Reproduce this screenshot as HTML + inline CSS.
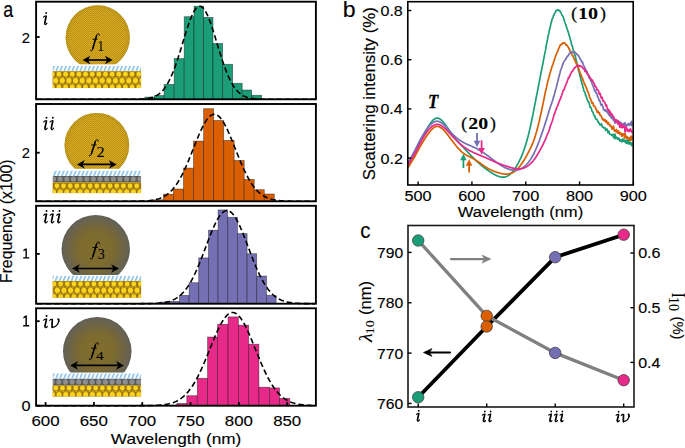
<!DOCTYPE html><html><head><meta charset="utf-8"><style>html,body{margin:0;padding:0;background:#fff;overflow:hidden}svg{display:block}</style></head><body><svg width="685" height="448" viewBox="0 0 685 448">
<rect width="685" height="448" fill="#fff"/>
<defs><pattern id="hatch" patternUnits="userSpaceOnUse" width="4.0" height="10" patternTransform="skewX(-22)"><rect width="4.0" height="10" fill="#fff"/><rect x="0" width="1.8" height="10" fill="#8cc4ec"/></pattern><radialGradient id="gold" cx="0.5" cy="0.5" r="0.5"><stop offset="0" stop-color="#b98a0e"/><stop offset="0.85" stop-color="#b6880e"/><stop offset="1" stop-color="#a07a0c"/></radialGradient><radialGradient id="dark" cx="0.5" cy="0.5" r="0.5"><stop offset="0" stop-color="#7e6c2a"/><stop offset="0.5" stop-color="#78672d"/><stop offset="0.74" stop-color="#6c6040"/><stop offset="0.9" stop-color="#615f54"/><stop offset="1" stop-color="#595959"/></radialGradient><pattern id="dotsgold" patternUnits="userSpaceOnUse" width="2.2" height="2.0"><circle cx="0.55" cy="0.5" r="0.62" fill="rgba(236,196,52,0.8)"/><circle cx="1.65" cy="1.5" r="0.62" fill="rgba(236,196,52,0.8)"/></pattern><pattern id="dotsdark" patternUnits="userSpaceOnUse" width="2" height="1.75"><circle cx="0.5" cy="0.45" r="0.5" fill="rgba(150,130,60,0.35)"/><circle cx="1.5" cy="1.3" r="0.5" fill="rgba(150,130,60,0.35)"/></pattern></defs>
<rect x="144.90" y="97.10" width="9.60" height="2.20" fill="#1b9e77" stroke="rgba(0,0,0,0.45)" stroke-width="0.8"/>
<rect x="154.50" y="95.50" width="9.60" height="3.80" fill="#1b9e77" stroke="rgba(0,0,0,0.45)" stroke-width="0.8"/>
<rect x="164.10" y="84.40" width="10.10" height="14.90" fill="#1b9e77" stroke="rgba(0,0,0,0.45)" stroke-width="0.8"/>
<rect x="174.20" y="58.50" width="10.00" height="40.80" fill="#1b9e77" stroke="rgba(0,0,0,0.45)" stroke-width="0.8"/>
<rect x="184.20" y="16.70" width="9.80" height="82.60" fill="#1b9e77" stroke="rgba(0,0,0,0.45)" stroke-width="0.8"/>
<rect x="194.00" y="6.25" width="9.60" height="93.05" fill="#1b9e77" stroke="rgba(0,0,0,0.45)" stroke-width="0.8"/>
<rect x="203.60" y="17.40" width="9.40" height="81.90" fill="#1b9e77" stroke="rgba(0,0,0,0.45)" stroke-width="0.8"/>
<rect x="213.00" y="43.50" width="9.60" height="55.80" fill="#1b9e77" stroke="rgba(0,0,0,0.45)" stroke-width="0.8"/>
<rect x="222.60" y="64.30" width="10.00" height="35.00" fill="#1b9e77" stroke="rgba(0,0,0,0.45)" stroke-width="0.8"/>
<rect x="232.60" y="83.30" width="9.60" height="16.00" fill="#1b9e77" stroke="rgba(0,0,0,0.45)" stroke-width="0.8"/>
<rect x="242.20" y="90.00" width="9.40" height="9.30" fill="#1b9e77" stroke="rgba(0,0,0,0.45)" stroke-width="0.8"/>
<rect x="251.60" y="95.30" width="10.05" height="4.00" fill="#1b9e77" stroke="rgba(0,0,0,0.45)" stroke-width="0.8"/>
<path d="M37.10,99.30 L38.03,99.30 L38.96,99.30 L39.89,99.30 L40.82,99.30 L41.75,99.30 L42.67,99.30 L43.60,99.30 L44.53,99.30 L45.46,99.30 L46.39,99.30 L47.32,99.30 L48.25,99.30 L49.18,99.30 L50.11,99.30 L51.04,99.30 L51.97,99.30 L52.89,99.30 L53.82,99.30 L54.75,99.30 L55.68,99.30 L56.61,99.30 L57.54,99.30 L58.47,99.30 L59.40,99.30 L60.33,99.30 L61.26,99.30 L62.19,99.30 L63.11,99.30 L64.04,99.30 L64.97,99.30 L65.90,99.30 L66.83,99.30 L67.76,99.30 L68.69,99.30 L69.62,99.30 L70.55,99.30 L71.48,99.30 L72.41,99.30 L73.33,99.30 L74.26,99.30 L75.19,99.30 L76.12,99.30 L77.05,99.30 L77.98,99.30 L78.91,99.30 L79.84,99.30 L80.77,99.30 L81.70,99.30 L82.63,99.30 L83.55,99.30 L84.48,99.30 L85.41,99.30 L86.34,99.30 L87.27,99.30 L88.20,99.30 L89.13,99.30 L90.06,99.30 L90.99,99.30 L91.92,99.30 L92.85,99.30 L93.77,99.30 L94.70,99.30 L95.63,99.30 L96.56,99.30 L97.49,99.30 L98.42,99.30 L99.35,99.30 L100.28,99.30 L101.21,99.30 L102.14,99.30 L103.07,99.30 L103.99,99.30 L104.92,99.30 L105.85,99.30 L106.78,99.30 L107.71,99.30 L108.64,99.30 L109.57,99.30 L110.50,99.30 L111.43,99.30 L112.36,99.30 L113.29,99.30 L114.22,99.30 L115.14,99.30 L116.07,99.30 L117.00,99.30 L117.93,99.30 L118.86,99.30 L119.79,99.30 L120.72,99.30 L121.65,99.30 L122.58,99.30 L123.51,99.30 L124.44,99.29 L125.36,99.29 L126.29,99.29 L127.22,99.29 L128.15,99.29 L129.08,99.28 L130.01,99.28 L130.94,99.27 L131.87,99.27 L132.80,99.26 L133.73,99.25 L134.66,99.24 L135.58,99.22 L136.51,99.20 L137.44,99.18 L138.37,99.16 L139.30,99.13 L140.23,99.09 L141.16,99.05 L142.09,98.99 L143.02,98.93 L143.95,98.86 L144.88,98.77 L145.80,98.67 L146.73,98.56 L147.66,98.42 L148.59,98.27 L149.52,98.08 L150.45,97.88 L151.38,97.63 L152.31,97.36 L153.24,97.05 L154.17,96.69 L155.10,96.28 L156.02,95.83 L156.95,95.31 L157.88,94.74 L158.81,94.09 L159.74,93.37 L160.67,92.58 L161.60,91.69 L162.53,90.72 L163.46,89.65 L164.39,88.48 L165.32,87.21 L166.24,85.82 L167.17,84.32 L168.10,82.71 L169.03,80.97 L169.96,79.11 L170.89,77.12 L171.82,75.02 L172.75,72.79 L173.68,70.45 L174.61,67.99 L175.54,65.42 L176.46,62.75 L177.39,59.98 L178.32,57.13 L179.25,54.21 L180.18,51.23 L181.11,48.20 L182.04,45.15 L182.97,42.07 L183.90,39.01 L184.83,35.97 L185.76,32.97 L186.68,30.03 L187.61,27.18 L188.54,24.44 L189.47,21.81 L190.40,19.34 L191.33,17.03 L192.26,14.90 L193.19,12.97 L194.12,11.27 L195.05,9.79 L195.98,8.56 L196.90,7.58 L197.83,6.87 L198.76,6.42 L199.69,6.25 L200.62,6.36 L201.55,6.74 L202.48,7.39 L203.41,8.31 L204.34,9.48 L205.27,10.90 L206.20,12.56 L207.12,14.43 L208.05,16.52 L208.98,18.79 L209.91,21.22 L210.84,23.81 L211.77,26.53 L212.70,29.36 L213.63,32.28 L214.56,35.26 L215.49,38.30 L216.42,41.36 L217.34,44.43 L218.27,47.49 L219.20,50.53 L220.13,53.52 L221.06,56.46 L221.99,59.33 L222.92,62.11 L223.85,64.81 L224.78,67.40 L225.71,69.89 L226.64,72.26 L227.56,74.51 L228.49,76.65 L229.42,78.66 L230.35,80.55 L231.28,82.31 L232.21,83.96 L233.14,85.48 L234.07,86.90 L235.00,88.20 L235.93,89.39 L236.86,90.48 L237.78,91.48 L238.71,92.38 L239.64,93.19 L240.57,93.93 L241.50,94.59 L242.43,95.18 L243.36,95.71 L244.29,96.18 L245.22,96.60 L246.15,96.97 L247.08,97.29 L248.01,97.57 L248.93,97.82 L249.86,98.04 L250.79,98.23 L251.72,98.39 L252.65,98.53 L253.58,98.65 L254.51,98.75 L255.44,98.84 L256.37,98.92 L257.30,98.98 L258.23,99.03 L259.15,99.08 L260.08,99.12 L261.01,99.15 L261.94,99.18 L262.87,99.20 L263.80,99.22 L264.73,99.23 L265.66,99.25 L266.59,99.26 L267.52,99.26 L268.45,99.27 L269.37,99.28 L270.30,99.28 L271.23,99.29 L272.16,99.29 L273.09,99.29 L274.02,99.29 L274.95,99.29 L275.88,99.30 L276.81,99.30 L277.74,99.30 L278.67,99.30 L279.59,99.30 L280.52,99.30 L281.45,99.30 L282.38,99.30 L283.31,99.30 L284.24,99.30 L285.17,99.30 L286.10,99.30 L287.03,99.30 L287.96,99.30 L288.89,99.30 L289.81,99.30 L290.74,99.30 L291.67,99.30 L292.60,99.30 L293.53,99.30 L294.46,99.30 L295.39,99.30 L296.32,99.30 L297.25,99.30 L298.18,99.30 L299.11,99.30 L300.03,99.30 L300.96,99.30 L301.89,99.30 L302.82,99.30 L303.75,99.30 L304.68,99.30 L305.61,99.30 L306.54,99.30 L307.47,99.30 L308.40,99.30 L309.33,99.30 L310.25,99.30 L311.18,99.30 L312.11,99.30 L313.04,99.30 L313.97,99.30 L314.90,99.30" fill="none" stroke="#000" stroke-width="1.6" stroke-dasharray="5.5,3"/>
<rect x="153.30" y="199.80" width="10.10" height="1.50" fill="#d95f02" stroke="rgba(0,0,0,0.45)" stroke-width="0.8"/>
<rect x="163.40" y="194.20" width="10.00" height="7.10" fill="#d95f02" stroke="rgba(0,0,0,0.45)" stroke-width="0.8"/>
<rect x="173.40" y="189.00" width="10.10" height="12.30" fill="#d95f02" stroke="rgba(0,0,0,0.45)" stroke-width="0.8"/>
<rect x="183.50" y="168.10" width="10.00" height="33.20" fill="#d95f02" stroke="rgba(0,0,0,0.45)" stroke-width="0.8"/>
<rect x="193.50" y="141.10" width="10.10" height="60.20" fill="#d95f02" stroke="rgba(0,0,0,0.45)" stroke-width="0.8"/>
<rect x="203.60" y="108.70" width="10.00" height="92.60" fill="#d95f02" stroke="rgba(0,0,0,0.45)" stroke-width="0.8"/>
<rect x="213.60" y="120.50" width="10.10" height="80.80" fill="#d95f02" stroke="rgba(0,0,0,0.45)" stroke-width="0.8"/>
<rect x="223.70" y="140.40" width="10.50" height="60.90" fill="#d95f02" stroke="rgba(0,0,0,0.45)" stroke-width="0.8"/>
<rect x="234.20" y="160.50" width="10.00" height="40.80" fill="#d95f02" stroke="rgba(0,0,0,0.45)" stroke-width="0.8"/>
<rect x="244.20" y="179.50" width="10.00" height="21.80" fill="#d95f02" stroke="rgba(0,0,0,0.45)" stroke-width="0.8"/>
<rect x="254.20" y="189.70" width="10.10" height="11.60" fill="#d95f02" stroke="rgba(0,0,0,0.45)" stroke-width="0.8"/>
<rect x="264.30" y="194.00" width="10.00" height="7.30" fill="#d95f02" stroke="rgba(0,0,0,0.45)" stroke-width="0.8"/>
<path d="M37.10,201.30 L38.03,201.30 L38.96,201.30 L39.89,201.30 L40.82,201.30 L41.75,201.30 L42.67,201.30 L43.60,201.30 L44.53,201.30 L45.46,201.30 L46.39,201.30 L47.32,201.30 L48.25,201.30 L49.18,201.30 L50.11,201.30 L51.04,201.30 L51.97,201.30 L52.89,201.30 L53.82,201.30 L54.75,201.30 L55.68,201.30 L56.61,201.30 L57.54,201.30 L58.47,201.30 L59.40,201.30 L60.33,201.30 L61.26,201.30 L62.19,201.30 L63.11,201.30 L64.04,201.30 L64.97,201.30 L65.90,201.30 L66.83,201.30 L67.76,201.30 L68.69,201.30 L69.62,201.30 L70.55,201.30 L71.48,201.30 L72.41,201.30 L73.33,201.30 L74.26,201.30 L75.19,201.30 L76.12,201.30 L77.05,201.30 L77.98,201.30 L78.91,201.30 L79.84,201.30 L80.77,201.30 L81.70,201.30 L82.63,201.30 L83.55,201.30 L84.48,201.30 L85.41,201.30 L86.34,201.30 L87.27,201.30 L88.20,201.30 L89.13,201.30 L90.06,201.30 L90.99,201.30 L91.92,201.30 L92.85,201.30 L93.77,201.30 L94.70,201.30 L95.63,201.30 L96.56,201.30 L97.49,201.30 L98.42,201.30 L99.35,201.30 L100.28,201.30 L101.21,201.30 L102.14,201.30 L103.07,201.30 L103.99,201.30 L104.92,201.30 L105.85,201.30 L106.78,201.30 L107.71,201.30 L108.64,201.30 L109.57,201.30 L110.50,201.30 L111.43,201.30 L112.36,201.30 L113.29,201.30 L114.22,201.30 L115.14,201.30 L116.07,201.30 L117.00,201.30 L117.93,201.30 L118.86,201.30 L119.79,201.30 L120.72,201.30 L121.65,201.30 L122.58,201.29 L123.51,201.29 L124.44,201.29 L125.36,201.29 L126.29,201.29 L127.22,201.29 L128.15,201.28 L129.08,201.28 L130.01,201.27 L130.94,201.27 L131.87,201.26 L132.80,201.26 L133.73,201.25 L134.66,201.24 L135.58,201.23 L136.51,201.21 L137.44,201.20 L138.37,201.18 L139.30,201.16 L140.23,201.14 L141.16,201.11 L142.09,201.08 L143.02,201.04 L143.95,201.00 L144.88,200.95 L145.80,200.90 L146.73,200.83 L147.66,200.76 L148.59,200.68 L149.52,200.59 L150.45,200.48 L151.38,200.36 L152.31,200.23 L153.24,200.08 L154.17,199.91 L155.10,199.73 L156.02,199.52 L156.95,199.28 L157.88,199.02 L158.81,198.74 L159.74,198.42 L160.67,198.07 L161.60,197.68 L162.53,197.25 L163.46,196.79 L164.39,196.28 L165.32,195.72 L166.24,195.11 L167.17,194.45 L168.10,193.74 L169.03,192.97 L169.96,192.13 L170.89,191.24 L171.82,190.27 L172.75,189.24 L173.68,188.14 L174.61,186.97 L175.54,185.72 L176.46,184.40 L177.39,183.00 L178.32,181.53 L179.25,179.98 L180.18,178.35 L181.11,176.65 L182.04,174.87 L182.97,173.02 L183.90,171.10 L184.83,169.11 L185.76,167.06 L186.68,164.96 L187.61,162.80 L188.54,160.59 L189.47,158.34 L190.40,156.05 L191.33,153.74 L192.26,151.41 L193.19,149.07 L194.12,146.72 L195.05,144.38 L195.98,142.06 L196.90,139.77 L197.83,137.51 L198.76,135.30 L199.69,133.15 L200.62,131.07 L201.55,129.07 L202.48,127.16 L203.41,125.35 L204.34,123.64 L205.27,122.06 L206.20,120.60 L207.12,119.28 L208.05,118.10 L208.98,117.07 L209.91,116.20 L210.84,115.48 L211.77,114.93 L212.70,114.55 L213.63,114.34 L214.56,114.31 L215.49,114.44 L216.42,114.74 L217.34,115.22 L218.27,115.86 L219.20,116.66 L220.13,117.62 L221.06,118.74 L221.99,119.99 L222.92,121.39 L223.85,122.92 L224.78,124.57 L225.71,126.34 L226.64,128.21 L227.56,130.17 L228.49,132.22 L229.42,134.34 L230.35,136.52 L231.28,138.76 L232.21,141.04 L233.14,143.35 L234.07,145.68 L235.00,148.02 L235.93,150.37 L236.86,152.70 L237.78,155.03 L238.71,157.32 L239.64,159.59 L240.57,161.82 L241.50,164.00 L242.43,166.13 L243.36,168.21 L244.29,170.22 L245.22,172.17 L246.15,174.05 L247.08,175.86 L248.01,177.60 L248.93,179.26 L249.86,180.85 L250.79,182.35 L251.72,183.79 L252.65,185.14 L253.58,186.42 L254.51,187.63 L255.44,188.76 L256.37,189.82 L257.30,190.82 L258.23,191.74 L259.15,192.60 L260.08,193.40 L261.01,194.14 L261.94,194.83 L262.87,195.46 L263.80,196.03 L264.73,196.57 L265.66,197.05 L266.59,197.49 L267.52,197.90 L268.45,198.27 L269.37,198.60 L270.30,198.90 L271.23,199.17 L272.16,199.42 L273.09,199.64 L274.02,199.83 L274.95,200.01 L275.88,200.17 L276.81,200.31 L277.74,200.43 L278.67,200.54 L279.59,200.64 L280.52,200.73 L281.45,200.80 L282.38,200.87 L283.31,200.93 L284.24,200.98 L285.17,201.02 L286.10,201.06 L287.03,201.10 L287.96,201.13 L288.89,201.15 L289.81,201.17 L290.74,201.19 L291.67,201.21 L292.60,201.22 L293.53,201.23 L294.46,201.24 L295.39,201.25 L296.32,201.26 L297.25,201.27 L298.18,201.27 L299.11,201.28 L300.03,201.28 L300.96,201.28 L301.89,201.29 L302.82,201.29 L303.75,201.29 L304.68,201.29 L305.61,201.29 L306.54,201.29 L307.47,201.30 L308.40,201.30 L309.33,201.30 L310.25,201.30 L311.18,201.30 L312.11,201.30 L313.04,201.30 L313.97,201.30 L314.90,201.30" fill="none" stroke="#000" stroke-width="1.6" stroke-dasharray="5.5,3"/>
<rect x="160.00" y="302.10" width="9.60" height="1.60" fill="#7570b3" stroke="rgba(0,0,0,0.45)" stroke-width="0.8"/>
<rect x="169.60" y="301.40" width="9.90" height="2.30" fill="#7570b3" stroke="rgba(0,0,0,0.45)" stroke-width="0.8"/>
<rect x="179.50" y="295.40" width="9.60" height="8.30" fill="#7570b3" stroke="rgba(0,0,0,0.45)" stroke-width="0.8"/>
<rect x="189.10" y="282.70" width="9.60" height="21.00" fill="#7570b3" stroke="rgba(0,0,0,0.45)" stroke-width="0.8"/>
<rect x="198.70" y="257.90" width="9.80" height="45.80" fill="#7570b3" stroke="rgba(0,0,0,0.45)" stroke-width="0.8"/>
<rect x="208.50" y="230.20" width="9.60" height="73.50" fill="#7570b3" stroke="rgba(0,0,0,0.45)" stroke-width="0.8"/>
<rect x="218.10" y="209.90" width="9.60" height="93.80" fill="#7570b3" stroke="rgba(0,0,0,0.45)" stroke-width="0.8"/>
<rect x="227.70" y="217.30" width="9.80" height="86.40" fill="#7570b3" stroke="rgba(0,0,0,0.45)" stroke-width="0.8"/>
<rect x="237.50" y="233.60" width="9.60" height="70.10" fill="#7570b3" stroke="rgba(0,0,0,0.45)" stroke-width="0.8"/>
<rect x="247.10" y="253.70" width="9.60" height="50.00" fill="#7570b3" stroke="rgba(0,0,0,0.45)" stroke-width="0.8"/>
<rect x="256.70" y="276.00" width="9.80" height="27.70" fill="#7570b3" stroke="rgba(0,0,0,0.45)" stroke-width="0.8"/>
<rect x="266.50" y="295.40" width="9.60" height="8.30" fill="#7570b3" stroke="rgba(0,0,0,0.45)" stroke-width="0.8"/>
<path d="M37.10,303.70 L38.03,303.70 L38.96,303.70 L39.89,303.70 L40.82,303.70 L41.75,303.70 L42.67,303.70 L43.60,303.70 L44.53,303.70 L45.46,303.70 L46.39,303.70 L47.32,303.70 L48.25,303.70 L49.18,303.70 L50.11,303.70 L51.04,303.70 L51.97,303.70 L52.89,303.70 L53.82,303.70 L54.75,303.70 L55.68,303.70 L56.61,303.70 L57.54,303.70 L58.47,303.70 L59.40,303.70 L60.33,303.70 L61.26,303.70 L62.19,303.70 L63.11,303.70 L64.04,303.70 L64.97,303.70 L65.90,303.70 L66.83,303.70 L67.76,303.70 L68.69,303.70 L69.62,303.70 L70.55,303.70 L71.48,303.70 L72.41,303.70 L73.33,303.70 L74.26,303.70 L75.19,303.70 L76.12,303.70 L77.05,303.70 L77.98,303.70 L78.91,303.70 L79.84,303.70 L80.77,303.70 L81.70,303.70 L82.63,303.70 L83.55,303.70 L84.48,303.70 L85.41,303.70 L86.34,303.70 L87.27,303.70 L88.20,303.70 L89.13,303.70 L90.06,303.70 L90.99,303.70 L91.92,303.70 L92.85,303.70 L93.77,303.70 L94.70,303.70 L95.63,303.70 L96.56,303.70 L97.49,303.70 L98.42,303.70 L99.35,303.70 L100.28,303.70 L101.21,303.70 L102.14,303.70 L103.07,303.70 L103.99,303.70 L104.92,303.70 L105.85,303.70 L106.78,303.70 L107.71,303.70 L108.64,303.70 L109.57,303.70 L110.50,303.70 L111.43,303.70 L112.36,303.70 L113.29,303.70 L114.22,303.70 L115.14,303.70 L116.07,303.70 L117.00,303.70 L117.93,303.70 L118.86,303.70 L119.79,303.70 L120.72,303.70 L121.65,303.70 L122.58,303.70 L123.51,303.70 L124.44,303.70 L125.36,303.70 L126.29,303.70 L127.22,303.70 L128.15,303.70 L129.08,303.70 L130.01,303.70 L130.94,303.70 L131.87,303.70 L132.80,303.69 L133.73,303.69 L134.66,303.69 L135.58,303.69 L136.51,303.69 L137.44,303.69 L138.37,303.68 L139.30,303.68 L140.23,303.68 L141.16,303.67 L142.09,303.67 L143.02,303.66 L143.95,303.65 L144.88,303.64 L145.80,303.63 L146.73,303.62 L147.66,303.61 L148.59,303.59 L149.52,303.58 L150.45,303.55 L151.38,303.53 L152.31,303.50 L153.24,303.47 L154.17,303.43 L155.10,303.39 L156.02,303.34 L156.95,303.28 L157.88,303.22 L158.81,303.15 L159.74,303.06 L160.67,302.97 L161.60,302.86 L162.53,302.75 L163.46,302.61 L164.39,302.46 L165.32,302.29 L166.24,302.11 L167.17,301.90 L168.10,301.66 L169.03,301.41 L169.96,301.12 L170.89,300.80 L171.82,300.45 L172.75,300.07 L173.68,299.64 L174.61,299.18 L175.54,298.67 L176.46,298.12 L177.39,297.52 L178.32,296.86 L179.25,296.15 L180.18,295.39 L181.11,294.56 L182.04,293.67 L182.97,292.71 L183.90,291.68 L184.83,290.59 L185.76,289.42 L186.68,288.18 L187.61,286.86 L188.54,285.46 L189.47,283.98 L190.40,282.43 L191.33,280.79 L192.26,279.08 L193.19,277.29 L194.12,275.42 L195.05,273.48 L195.98,271.47 L196.90,269.39 L197.83,267.24 L198.76,265.03 L199.69,262.77 L200.62,260.46 L201.55,258.10 L202.48,255.71 L203.41,253.28 L204.34,250.84 L205.27,248.38 L206.20,245.92 L207.12,243.46 L208.05,241.02 L208.98,238.60 L209.91,236.22 L210.84,233.88 L211.77,231.60 L212.70,229.39 L213.63,227.25 L214.56,225.20 L215.49,223.25 L216.42,221.41 L217.34,219.69 L218.27,218.09 L219.20,216.63 L220.13,215.32 L221.06,214.15 L221.99,213.14 L222.92,212.29 L223.85,211.61 L224.78,211.11 L225.71,210.77 L226.64,210.61 L227.56,210.63 L228.49,210.83 L229.42,211.20 L230.35,211.75 L231.28,212.46 L232.21,213.34 L233.14,214.39 L234.07,215.59 L235.00,216.94 L235.93,218.43 L236.86,220.05 L237.78,221.80 L238.71,223.67 L239.64,225.64 L240.57,227.71 L241.50,229.86 L242.43,232.09 L243.36,234.38 L244.29,236.73 L245.22,239.12 L246.15,241.54 L247.08,243.99 L248.01,246.45 L248.93,248.91 L249.86,251.37 L250.79,253.81 L251.72,256.23 L252.65,258.61 L253.58,260.96 L254.51,263.26 L255.44,265.52 L256.37,267.71 L257.30,269.84 L258.23,271.91 L259.15,273.91 L260.08,275.83 L261.01,277.68 L261.94,279.46 L262.87,281.15 L263.80,282.77 L264.73,284.31 L265.66,285.77 L266.59,287.15 L267.52,288.45 L268.45,289.68 L269.37,290.83 L270.30,291.91 L271.23,292.92 L272.16,293.87 L273.09,294.74 L274.02,295.56 L274.95,296.31 L275.88,297.01 L276.81,297.65 L277.74,298.24 L278.67,298.79 L279.59,299.28 L280.52,299.74 L281.45,300.15 L282.38,300.53 L283.31,300.87 L284.24,301.18 L285.17,301.46 L286.10,301.72 L287.03,301.94 L287.96,302.15 L288.89,302.33 L289.81,302.50 L290.74,302.64 L291.67,302.77 L292.60,302.89 L293.53,302.99 L294.46,303.08 L295.39,303.16 L296.32,303.23 L297.25,303.30 L298.18,303.35 L299.11,303.40 L300.03,303.44 L300.96,303.48 L301.89,303.51 L302.82,303.54 L303.75,303.56 L304.68,303.58 L305.61,303.60 L306.54,303.61 L307.47,303.63 L308.40,303.64 L309.33,303.65 L310.25,303.66 L311.18,303.66 L312.11,303.67 L313.04,303.67 L313.97,303.68 L314.90,303.68" fill="none" stroke="#000" stroke-width="1.6" stroke-dasharray="5.5,3"/>
<rect x="166.70" y="405.30" width="10.10" height="0.40" fill="#e7298a" stroke="rgba(0,0,0,0.45)" stroke-width="0.8"/>
<rect x="176.80" y="403.50" width="10.00" height="2.20" fill="#e7298a" stroke="rgba(0,0,0,0.45)" stroke-width="0.8"/>
<rect x="186.80" y="395.70" width="10.50" height="10.00" fill="#e7298a" stroke="rgba(0,0,0,0.45)" stroke-width="0.8"/>
<rect x="197.30" y="378.30" width="10.30" height="27.40" fill="#e7298a" stroke="rgba(0,0,0,0.45)" stroke-width="0.8"/>
<rect x="207.60" y="337.00" width="10.00" height="68.70" fill="#e7298a" stroke="rgba(0,0,0,0.45)" stroke-width="0.8"/>
<rect x="217.60" y="324.30" width="10.50" height="81.40" fill="#e7298a" stroke="rgba(0,0,0,0.45)" stroke-width="0.8"/>
<rect x="228.10" y="316.90" width="10.30" height="88.80" fill="#e7298a" stroke="rgba(0,0,0,0.45)" stroke-width="0.8"/>
<rect x="238.40" y="325.20" width="10.30" height="80.50" fill="#e7298a" stroke="rgba(0,0,0,0.45)" stroke-width="0.8"/>
<rect x="248.70" y="344.20" width="10.20" height="61.50" fill="#e7298a" stroke="rgba(0,0,0,0.45)" stroke-width="0.8"/>
<rect x="258.90" y="387.20" width="10.50" height="18.50" fill="#e7298a" stroke="rgba(0,0,0,0.45)" stroke-width="0.8"/>
<rect x="269.40" y="387.90" width="10.10" height="17.80" fill="#e7298a" stroke="rgba(0,0,0,0.45)" stroke-width="0.8"/>
<rect x="279.50" y="398.40" width="10.30" height="7.30" fill="#e7298a" stroke="rgba(0,0,0,0.45)" stroke-width="0.8"/>
<path d="M37.10,405.70 L38.03,405.70 L38.96,405.70 L39.89,405.70 L40.82,405.70 L41.75,405.70 L42.67,405.70 L43.60,405.70 L44.53,405.70 L45.46,405.70 L46.39,405.70 L47.32,405.70 L48.25,405.70 L49.18,405.70 L50.11,405.70 L51.04,405.70 L51.97,405.70 L52.89,405.70 L53.82,405.70 L54.75,405.70 L55.68,405.70 L56.61,405.70 L57.54,405.70 L58.47,405.70 L59.40,405.70 L60.33,405.70 L61.26,405.70 L62.19,405.70 L63.11,405.70 L64.04,405.70 L64.97,405.70 L65.90,405.70 L66.83,405.70 L67.76,405.70 L68.69,405.70 L69.62,405.70 L70.55,405.70 L71.48,405.70 L72.41,405.70 L73.33,405.70 L74.26,405.70 L75.19,405.70 L76.12,405.70 L77.05,405.70 L77.98,405.70 L78.91,405.70 L79.84,405.70 L80.77,405.70 L81.70,405.70 L82.63,405.70 L83.55,405.70 L84.48,405.70 L85.41,405.70 L86.34,405.70 L87.27,405.70 L88.20,405.70 L89.13,405.70 L90.06,405.70 L90.99,405.70 L91.92,405.70 L92.85,405.70 L93.77,405.70 L94.70,405.70 L95.63,405.70 L96.56,405.70 L97.49,405.70 L98.42,405.70 L99.35,405.70 L100.28,405.70 L101.21,405.70 L102.14,405.70 L103.07,405.70 L103.99,405.70 L104.92,405.70 L105.85,405.70 L106.78,405.70 L107.71,405.70 L108.64,405.70 L109.57,405.70 L110.50,405.70 L111.43,405.70 L112.36,405.70 L113.29,405.70 L114.22,405.70 L115.14,405.70 L116.07,405.70 L117.00,405.70 L117.93,405.70 L118.86,405.70 L119.79,405.70 L120.72,405.70 L121.65,405.70 L122.58,405.70 L123.51,405.70 L124.44,405.70 L125.36,405.70 L126.29,405.70 L127.22,405.70 L128.15,405.70 L129.08,405.70 L130.01,405.70 L130.94,405.70 L131.87,405.69 L132.80,405.69 L133.73,405.69 L134.66,405.69 L135.58,405.69 L136.51,405.69 L137.44,405.68 L138.37,405.68 L139.30,405.68 L140.23,405.67 L141.16,405.67 L142.09,405.66 L143.02,405.66 L143.95,405.65 L144.88,405.64 L145.80,405.63 L146.73,405.62 L147.66,405.61 L148.59,405.59 L149.52,405.58 L150.45,405.56 L151.38,405.54 L152.31,405.51 L153.24,405.48 L154.17,405.45 L155.10,405.41 L156.02,405.37 L156.95,405.32 L157.88,405.27 L158.81,405.20 L159.74,405.14 L160.67,405.06 L161.60,404.97 L162.53,404.87 L163.46,404.76 L164.39,404.64 L165.32,404.50 L166.24,404.35 L167.17,404.18 L168.10,403.99 L169.03,403.79 L169.96,403.56 L170.89,403.31 L171.82,403.03 L172.75,402.73 L173.68,402.40 L174.61,402.03 L175.54,401.63 L176.46,401.20 L177.39,400.73 L178.32,400.22 L179.25,399.67 L180.18,399.07 L181.11,398.42 L182.04,397.73 L182.97,396.98 L183.90,396.18 L184.83,395.32 L185.76,394.41 L186.68,393.43 L187.61,392.39 L188.54,391.29 L189.47,390.12 L190.40,388.89 L191.33,387.59 L192.26,386.22 L193.19,384.78 L194.12,383.27 L195.05,381.69 L195.98,380.05 L196.90,378.34 L197.83,376.56 L198.76,374.72 L199.69,372.81 L200.62,370.85 L201.55,368.83 L202.48,366.76 L203.41,364.64 L204.34,362.47 L205.27,360.27 L206.20,358.04 L207.12,355.77 L208.05,353.49 L208.98,351.20 L209.91,348.89 L210.84,346.59 L211.77,344.30 L212.70,342.02 L213.63,339.77 L214.56,337.55 L215.49,335.38 L216.42,333.26 L217.34,331.19 L218.27,329.20 L219.20,327.28 L220.13,325.44 L221.06,323.70 L221.99,322.06 L222.92,320.53 L223.85,319.12 L224.78,317.83 L225.71,316.66 L226.64,315.63 L227.56,314.75 L228.49,314.00 L229.42,313.40 L230.35,312.95 L231.28,312.66 L232.21,312.51 L233.14,312.53 L234.07,312.69 L235.00,313.01 L235.93,313.49 L236.86,314.11 L237.78,314.88 L238.71,315.79 L239.64,316.84 L240.57,318.03 L241.50,319.34 L242.43,320.77 L243.36,322.32 L244.29,323.98 L245.22,325.73 L246.15,327.58 L247.08,329.51 L248.01,331.52 L248.93,333.59 L249.86,335.73 L250.79,337.91 L251.72,340.13 L252.65,342.39 L253.58,344.67 L254.51,346.96 L255.44,349.27 L256.37,351.57 L257.30,353.86 L258.23,356.14 L259.15,358.40 L260.08,360.63 L261.01,362.82 L261.94,364.98 L262.87,367.09 L263.80,369.16 L264.73,371.17 L265.66,373.12 L266.59,375.02 L267.52,376.85 L268.45,378.62 L269.37,380.32 L270.30,381.95 L271.23,383.52 L272.16,385.02 L273.09,386.44 L274.02,387.80 L274.95,389.09 L275.88,390.32 L276.81,391.47 L277.74,392.57 L278.67,393.59 L279.59,394.56 L280.52,395.47 L281.45,396.31 L282.38,397.11 L283.31,397.84 L284.24,398.53 L285.17,399.17 L286.10,399.76 L287.03,400.30 L287.96,400.81 L288.89,401.27 L289.81,401.70 L290.74,402.09 L291.67,402.45 L292.60,402.78 L293.53,403.08 L294.46,403.35 L295.39,403.60 L296.32,403.82 L297.25,404.03 L298.18,404.21 L299.11,404.38 L300.03,404.53 L300.96,404.66 L301.89,404.78 L302.82,404.89 L303.75,404.98 L304.68,405.07 L305.61,405.15 L306.54,405.21 L307.47,405.28 L308.40,405.33 L309.33,405.38 L310.25,405.42 L311.18,405.45 L312.11,405.49 L313.04,405.52 L313.97,405.54 L314.90,405.56" fill="none" stroke="#000" stroke-width="1.6" stroke-dasharray="5.5,3"/>
<clipPath id="cl0"><rect x="0" y="0" width="685" height="64.30"/></clipPath>
<g clip-path="url(#cl0)"><circle cx="97.75" cy="37.5" r="32.15" fill="url(#gold)"/><circle cx="97.75" cy="37.5" r="32.15" fill="url(#dotsgold)"/></g>
<rect x="52.7" y="66.0" width="88.4" height="5.20" fill="url(#hatch)"/>
<rect x="52.7" y="71.20" width="88.4" height="16.80" fill="#a98208"/>
<clipPath id="cy0"><rect x="52.7" y="71.20" width="88.4" height="16.80"/></clipPath><g clip-path="url(#cy0)">
<circle cx="45.65" cy="74.20" r="2.4" fill="#fad41e"/>
<line x1="48.98" y1="72.00" x2="48.98" y2="76.40" stroke="#8f6a04" stroke-width="0.8"/>
<circle cx="52.30" cy="74.20" r="2.4" fill="#fad41e"/>
<line x1="55.62" y1="72.00" x2="55.62" y2="76.40" stroke="#8f6a04" stroke-width="0.8"/>
<circle cx="58.95" cy="74.20" r="2.4" fill="#fad41e"/>
<line x1="62.27" y1="72.00" x2="62.27" y2="76.40" stroke="#8f6a04" stroke-width="0.8"/>
<circle cx="65.60" cy="74.20" r="2.4" fill="#fad41e"/>
<line x1="68.92" y1="72.00" x2="68.92" y2="76.40" stroke="#8f6a04" stroke-width="0.8"/>
<circle cx="72.25" cy="74.20" r="2.4" fill="#fad41e"/>
<line x1="75.58" y1="72.00" x2="75.58" y2="76.40" stroke="#8f6a04" stroke-width="0.8"/>
<circle cx="78.90" cy="74.20" r="2.4" fill="#fad41e"/>
<line x1="82.23" y1="72.00" x2="82.23" y2="76.40" stroke="#8f6a04" stroke-width="0.8"/>
<circle cx="85.55" cy="74.20" r="2.4" fill="#fad41e"/>
<line x1="88.88" y1="72.00" x2="88.88" y2="76.40" stroke="#8f6a04" stroke-width="0.8"/>
<circle cx="92.20" cy="74.20" r="2.4" fill="#fad41e"/>
<line x1="95.53" y1="72.00" x2="95.53" y2="76.40" stroke="#8f6a04" stroke-width="0.8"/>
<circle cx="98.85" cy="74.20" r="2.4" fill="#fad41e"/>
<line x1="102.18" y1="72.00" x2="102.18" y2="76.40" stroke="#8f6a04" stroke-width="0.8"/>
<circle cx="105.50" cy="74.20" r="2.4" fill="#fad41e"/>
<line x1="108.83" y1="72.00" x2="108.83" y2="76.40" stroke="#8f6a04" stroke-width="0.8"/>
<circle cx="112.15" cy="74.20" r="2.4" fill="#fad41e"/>
<line x1="115.48" y1="72.00" x2="115.48" y2="76.40" stroke="#8f6a04" stroke-width="0.8"/>
<circle cx="118.80" cy="74.20" r="2.4" fill="#fad41e"/>
<line x1="122.13" y1="72.00" x2="122.13" y2="76.40" stroke="#8f6a04" stroke-width="0.8"/>
<circle cx="125.45" cy="74.20" r="2.4" fill="#fad41e"/>
<line x1="128.78" y1="72.00" x2="128.78" y2="76.40" stroke="#8f6a04" stroke-width="0.8"/>
<circle cx="132.10" cy="74.20" r="2.4" fill="#fad41e"/>
<line x1="135.43" y1="72.00" x2="135.43" y2="76.40" stroke="#8f6a04" stroke-width="0.8"/>
<circle cx="138.75" cy="74.20" r="2.4" fill="#fad41e"/>
<line x1="142.08" y1="72.00" x2="142.08" y2="76.40" stroke="#8f6a04" stroke-width="0.8"/>
<line x1="52.7" y1="77.40" x2="141.1" y2="77.40" stroke="#e6d49a" stroke-width="0.6" stroke-dasharray="1.4,1.9"/>
<circle cx="48.98" cy="80.60" r="2.6" fill="#fad41e"/>
<line x1="52.30" y1="78.40" x2="52.30" y2="82.80" stroke="#8f6a04" stroke-width="0.8"/>
<circle cx="55.62" cy="80.60" r="2.6" fill="#fad41e"/>
<line x1="58.95" y1="78.40" x2="58.95" y2="82.80" stroke="#8f6a04" stroke-width="0.8"/>
<circle cx="62.27" cy="80.60" r="2.6" fill="#fad41e"/>
<line x1="65.60" y1="78.40" x2="65.60" y2="82.80" stroke="#8f6a04" stroke-width="0.8"/>
<circle cx="68.92" cy="80.60" r="2.6" fill="#fad41e"/>
<line x1="72.25" y1="78.40" x2="72.25" y2="82.80" stroke="#8f6a04" stroke-width="0.8"/>
<circle cx="75.58" cy="80.60" r="2.6" fill="#fad41e"/>
<line x1="78.90" y1="78.40" x2="78.90" y2="82.80" stroke="#8f6a04" stroke-width="0.8"/>
<circle cx="82.23" cy="80.60" r="2.6" fill="#fad41e"/>
<line x1="85.55" y1="78.40" x2="85.55" y2="82.80" stroke="#8f6a04" stroke-width="0.8"/>
<circle cx="88.88" cy="80.60" r="2.6" fill="#fad41e"/>
<line x1="92.20" y1="78.40" x2="92.20" y2="82.80" stroke="#8f6a04" stroke-width="0.8"/>
<circle cx="95.53" cy="80.60" r="2.6" fill="#fad41e"/>
<line x1="98.85" y1="78.40" x2="98.85" y2="82.80" stroke="#8f6a04" stroke-width="0.8"/>
<circle cx="102.18" cy="80.60" r="2.6" fill="#fad41e"/>
<line x1="105.50" y1="78.40" x2="105.50" y2="82.80" stroke="#8f6a04" stroke-width="0.8"/>
<circle cx="108.83" cy="80.60" r="2.6" fill="#fad41e"/>
<line x1="112.15" y1="78.40" x2="112.15" y2="82.80" stroke="#8f6a04" stroke-width="0.8"/>
<circle cx="115.48" cy="80.60" r="2.6" fill="#fad41e"/>
<line x1="118.80" y1="78.40" x2="118.80" y2="82.80" stroke="#8f6a04" stroke-width="0.8"/>
<circle cx="122.13" cy="80.60" r="2.6" fill="#fad41e"/>
<line x1="125.45" y1="78.40" x2="125.45" y2="82.80" stroke="#8f6a04" stroke-width="0.8"/>
<circle cx="128.78" cy="80.60" r="2.6" fill="#fad41e"/>
<line x1="132.10" y1="78.40" x2="132.10" y2="82.80" stroke="#8f6a04" stroke-width="0.8"/>
<circle cx="135.43" cy="80.60" r="2.6" fill="#fad41e"/>
<line x1="138.75" y1="78.40" x2="138.75" y2="82.80" stroke="#8f6a04" stroke-width="0.8"/>
<circle cx="142.08" cy="80.60" r="2.6" fill="#fad41e"/>
<line x1="145.40" y1="78.40" x2="145.40" y2="82.80" stroke="#8f6a04" stroke-width="0.8"/>
<line x1="52.7" y1="83.80" x2="141.1" y2="83.80" stroke="#e6d49a" stroke-width="0.6" stroke-dasharray="1.4,1.9"/>
<circle cx="45.65" cy="87.00" r="2.4" fill="#fad41e"/>
<line x1="48.98" y1="84.80" x2="48.98" y2="89.20" stroke="#8f6a04" stroke-width="0.8"/>
<circle cx="52.30" cy="87.00" r="2.4" fill="#fad41e"/>
<line x1="55.62" y1="84.80" x2="55.62" y2="89.20" stroke="#8f6a04" stroke-width="0.8"/>
<circle cx="58.95" cy="87.00" r="2.4" fill="#fad41e"/>
<line x1="62.27" y1="84.80" x2="62.27" y2="89.20" stroke="#8f6a04" stroke-width="0.8"/>
<circle cx="65.60" cy="87.00" r="2.4" fill="#fad41e"/>
<line x1="68.92" y1="84.80" x2="68.92" y2="89.20" stroke="#8f6a04" stroke-width="0.8"/>
<circle cx="72.25" cy="87.00" r="2.4" fill="#fad41e"/>
<line x1="75.58" y1="84.80" x2="75.58" y2="89.20" stroke="#8f6a04" stroke-width="0.8"/>
<circle cx="78.90" cy="87.00" r="2.4" fill="#fad41e"/>
<line x1="82.23" y1="84.80" x2="82.23" y2="89.20" stroke="#8f6a04" stroke-width="0.8"/>
<circle cx="85.55" cy="87.00" r="2.4" fill="#fad41e"/>
<line x1="88.88" y1="84.80" x2="88.88" y2="89.20" stroke="#8f6a04" stroke-width="0.8"/>
<circle cx="92.20" cy="87.00" r="2.4" fill="#fad41e"/>
<line x1="95.53" y1="84.80" x2="95.53" y2="89.20" stroke="#8f6a04" stroke-width="0.8"/>
<circle cx="98.85" cy="87.00" r="2.4" fill="#fad41e"/>
<line x1="102.18" y1="84.80" x2="102.18" y2="89.20" stroke="#8f6a04" stroke-width="0.8"/>
<circle cx="105.50" cy="87.00" r="2.4" fill="#fad41e"/>
<line x1="108.83" y1="84.80" x2="108.83" y2="89.20" stroke="#8f6a04" stroke-width="0.8"/>
<circle cx="112.15" cy="87.00" r="2.4" fill="#fad41e"/>
<line x1="115.48" y1="84.80" x2="115.48" y2="89.20" stroke="#8f6a04" stroke-width="0.8"/>
<circle cx="118.80" cy="87.00" r="2.4" fill="#fad41e"/>
<line x1="122.13" y1="84.80" x2="122.13" y2="89.20" stroke="#8f6a04" stroke-width="0.8"/>
<circle cx="125.45" cy="87.00" r="2.4" fill="#fad41e"/>
<line x1="128.78" y1="84.80" x2="128.78" y2="89.20" stroke="#8f6a04" stroke-width="0.8"/>
<circle cx="132.10" cy="87.00" r="2.4" fill="#fad41e"/>
<line x1="135.43" y1="84.80" x2="135.43" y2="89.20" stroke="#8f6a04" stroke-width="0.8"/>
<circle cx="138.75" cy="87.00" r="2.4" fill="#fad41e"/>
<line x1="142.08" y1="84.80" x2="142.08" y2="89.20" stroke="#8f6a04" stroke-width="0.8"/>
</g>
<line x1="85.50" y1="60.0" x2="109.70" y2="60.0" stroke="#000" stroke-width="1.7"/>
<path d="M82.50,60.0 L90.30,55.70 L88.12,60.0 L90.30,64.30 Z" fill="#000"/>
<path d="M112.70,60.0 L104.90,55.70 L107.08,60.0 L104.90,64.30 Z" fill="#000"/>
<path d="M99.37,35.33 C99.62,34.25 98.78,33.57 97.86,33.76 C97.02,33.96 96.69,35.04 96.44,36.12" fill="none" stroke="#000" stroke-width="0.91" stroke-linecap="round"/>
<path d="M96.44,36.12 L92.84,48.38" fill="none" stroke="#000" stroke-width="1.65" stroke-linecap="round"/>
<path d="M92.84,48.38 C92.51,49.76 92.01,50.94 91.17,51.03 C90.75,51.03 90.58,50.64 90.67,50.25" fill="none" stroke="#000" stroke-width="0.99" stroke-linecap="round"/>
<path d="M92.93,39.26 L97.27,39.26" fill="none" stroke="#000" stroke-width="0.91" stroke-linecap="round"/>
<text transform="matrix(0.12766 0.00000 0.00000 0.13636 97.483 50.600)" font-family="Liberation Serif" font-size="100" fill="#000" stroke="#000" stroke-width="0.61">1</text>
<clipPath id="cl1"><rect x="0" y="0" width="685" height="168.70"/></clipPath>
<g clip-path="url(#cl1)"><circle cx="96.85" cy="145.25" r="32.35" fill="url(#gold)"/><circle cx="96.85" cy="145.25" r="32.35" fill="url(#dotsgold)"/></g>
<rect x="52.7" y="170.8" width="88.4" height="5.10" fill="url(#hatch)"/>
<clipPath id="cg1"><rect x="52.7" y="175.90" width="88.4" height="6.30"/></clipPath><g clip-path="url(#cg1)">
<rect x="52.7" y="175.90" width="88.4" height="6.30" fill="#5a5a5a"/>
<circle cx="46.85" cy="179.05" r="2.55" fill="#8e8e8e"/>
<circle cx="53.50" cy="179.05" r="2.55" fill="#8e8e8e"/>
<circle cx="60.15" cy="179.05" r="2.55" fill="#8e8e8e"/>
<circle cx="66.80" cy="179.05" r="2.55" fill="#8e8e8e"/>
<circle cx="73.45" cy="179.05" r="2.55" fill="#8e8e8e"/>
<circle cx="80.10" cy="179.05" r="2.55" fill="#8e8e8e"/>
<circle cx="86.75" cy="179.05" r="2.55" fill="#8e8e8e"/>
<circle cx="93.40" cy="179.05" r="2.55" fill="#8e8e8e"/>
<circle cx="100.05" cy="179.05" r="2.55" fill="#8e8e8e"/>
<circle cx="106.70" cy="179.05" r="2.55" fill="#8e8e8e"/>
<circle cx="113.35" cy="179.05" r="2.55" fill="#8e8e8e"/>
<circle cx="120.00" cy="179.05" r="2.55" fill="#8e8e8e"/>
<circle cx="126.65" cy="179.05" r="2.55" fill="#8e8e8e"/>
<circle cx="133.30" cy="179.05" r="2.55" fill="#8e8e8e"/>
<circle cx="139.95" cy="179.05" r="2.55" fill="#8e8e8e"/>
</g>
<rect x="52.7" y="182.20" width="88.4" height="10.90" fill="#a98208"/>
<clipPath id="cy1"><rect x="52.7" y="182.20" width="88.4" height="10.90"/></clipPath><g clip-path="url(#cy1)">
<circle cx="50.25" cy="185.80" r="2.4" fill="#fad41e"/>
<line x1="53.58" y1="183.60" x2="53.58" y2="188.00" stroke="#8f6a04" stroke-width="0.8"/>
<circle cx="56.90" cy="185.80" r="2.4" fill="#fad41e"/>
<line x1="60.23" y1="183.60" x2="60.23" y2="188.00" stroke="#8f6a04" stroke-width="0.8"/>
<circle cx="63.55" cy="185.80" r="2.4" fill="#fad41e"/>
<line x1="66.88" y1="183.60" x2="66.88" y2="188.00" stroke="#8f6a04" stroke-width="0.8"/>
<circle cx="70.20" cy="185.80" r="2.4" fill="#fad41e"/>
<line x1="73.53" y1="183.60" x2="73.53" y2="188.00" stroke="#8f6a04" stroke-width="0.8"/>
<circle cx="76.85" cy="185.80" r="2.4" fill="#fad41e"/>
<line x1="80.18" y1="183.60" x2="80.18" y2="188.00" stroke="#8f6a04" stroke-width="0.8"/>
<circle cx="83.50" cy="185.80" r="2.4" fill="#fad41e"/>
<line x1="86.83" y1="183.60" x2="86.83" y2="188.00" stroke="#8f6a04" stroke-width="0.8"/>
<circle cx="90.15" cy="185.80" r="2.4" fill="#fad41e"/>
<line x1="93.48" y1="183.60" x2="93.48" y2="188.00" stroke="#8f6a04" stroke-width="0.8"/>
<circle cx="96.80" cy="185.80" r="2.4" fill="#fad41e"/>
<line x1="100.13" y1="183.60" x2="100.13" y2="188.00" stroke="#8f6a04" stroke-width="0.8"/>
<circle cx="103.45" cy="185.80" r="2.4" fill="#fad41e"/>
<line x1="106.78" y1="183.60" x2="106.78" y2="188.00" stroke="#8f6a04" stroke-width="0.8"/>
<circle cx="110.10" cy="185.80" r="2.4" fill="#fad41e"/>
<line x1="113.43" y1="183.60" x2="113.43" y2="188.00" stroke="#8f6a04" stroke-width="0.8"/>
<circle cx="116.75" cy="185.80" r="2.4" fill="#fad41e"/>
<line x1="120.08" y1="183.60" x2="120.08" y2="188.00" stroke="#8f6a04" stroke-width="0.8"/>
<circle cx="123.40" cy="185.80" r="2.4" fill="#fad41e"/>
<line x1="126.73" y1="183.60" x2="126.73" y2="188.00" stroke="#8f6a04" stroke-width="0.8"/>
<circle cx="130.05" cy="185.80" r="2.4" fill="#fad41e"/>
<line x1="133.38" y1="183.60" x2="133.38" y2="188.00" stroke="#8f6a04" stroke-width="0.8"/>
<circle cx="136.70" cy="185.80" r="2.4" fill="#fad41e"/>
<line x1="140.03" y1="183.60" x2="140.03" y2="188.00" stroke="#8f6a04" stroke-width="0.8"/>
<circle cx="143.35" cy="185.80" r="2.4" fill="#fad41e"/>
<line x1="146.68" y1="183.60" x2="146.68" y2="188.00" stroke="#8f6a04" stroke-width="0.8"/>
<line x1="52.7" y1="189.00" x2="141.1" y2="189.00" stroke="#e6d49a" stroke-width="0.6" stroke-dasharray="1.4,1.9"/>
<circle cx="53.58" cy="192.20" r="2.6" fill="#fad41e"/>
<line x1="56.90" y1="190.00" x2="56.90" y2="194.40" stroke="#8f6a04" stroke-width="0.8"/>
<circle cx="60.23" cy="192.20" r="2.6" fill="#fad41e"/>
<line x1="63.55" y1="190.00" x2="63.55" y2="194.40" stroke="#8f6a04" stroke-width="0.8"/>
<circle cx="66.88" cy="192.20" r="2.6" fill="#fad41e"/>
<line x1="70.20" y1="190.00" x2="70.20" y2="194.40" stroke="#8f6a04" stroke-width="0.8"/>
<circle cx="73.53" cy="192.20" r="2.6" fill="#fad41e"/>
<line x1="76.85" y1="190.00" x2="76.85" y2="194.40" stroke="#8f6a04" stroke-width="0.8"/>
<circle cx="80.18" cy="192.20" r="2.6" fill="#fad41e"/>
<line x1="83.50" y1="190.00" x2="83.50" y2="194.40" stroke="#8f6a04" stroke-width="0.8"/>
<circle cx="86.83" cy="192.20" r="2.6" fill="#fad41e"/>
<line x1="90.15" y1="190.00" x2="90.15" y2="194.40" stroke="#8f6a04" stroke-width="0.8"/>
<circle cx="93.48" cy="192.20" r="2.6" fill="#fad41e"/>
<line x1="96.80" y1="190.00" x2="96.80" y2="194.40" stroke="#8f6a04" stroke-width="0.8"/>
<circle cx="100.13" cy="192.20" r="2.6" fill="#fad41e"/>
<line x1="103.45" y1="190.00" x2="103.45" y2="194.40" stroke="#8f6a04" stroke-width="0.8"/>
<circle cx="106.78" cy="192.20" r="2.6" fill="#fad41e"/>
<line x1="110.10" y1="190.00" x2="110.10" y2="194.40" stroke="#8f6a04" stroke-width="0.8"/>
<circle cx="113.43" cy="192.20" r="2.6" fill="#fad41e"/>
<line x1="116.75" y1="190.00" x2="116.75" y2="194.40" stroke="#8f6a04" stroke-width="0.8"/>
<circle cx="120.08" cy="192.20" r="2.6" fill="#fad41e"/>
<line x1="123.40" y1="190.00" x2="123.40" y2="194.40" stroke="#8f6a04" stroke-width="0.8"/>
<circle cx="126.73" cy="192.20" r="2.6" fill="#fad41e"/>
<line x1="130.05" y1="190.00" x2="130.05" y2="194.40" stroke="#8f6a04" stroke-width="0.8"/>
<circle cx="133.38" cy="192.20" r="2.6" fill="#fad41e"/>
<line x1="136.70" y1="190.00" x2="136.70" y2="194.40" stroke="#8f6a04" stroke-width="0.8"/>
<circle cx="140.03" cy="192.20" r="2.6" fill="#fad41e"/>
<line x1="143.35" y1="190.00" x2="143.35" y2="194.40" stroke="#8f6a04" stroke-width="0.8"/>
</g>
<line x1="80.00" y1="164.4" x2="113.70" y2="164.4" stroke="#000" stroke-width="1.7"/>
<path d="M77.00,164.4 L84.80,160.10 L82.62,164.4 L84.80,168.70 Z" fill="#000"/>
<path d="M116.70,164.4 L108.90,160.10 L111.08,164.4 L108.90,168.70 Z" fill="#000"/>
<path d="M98.33,141.21 C98.59,140.19 97.71,139.54 96.75,139.72 C95.87,139.91 95.52,140.93 95.26,141.95" fill="none" stroke="#000" stroke-width="0.91" stroke-linecap="round"/>
<path d="M95.26,141.95 L91.48,153.56" fill="none" stroke="#000" stroke-width="1.65" stroke-linecap="round"/>
<path d="M91.48,153.56 C91.13,154.86 90.60,155.97 89.72,156.06 C89.28,156.06 89.11,155.69 89.20,155.32" fill="none" stroke="#000" stroke-width="0.99" stroke-linecap="round"/>
<path d="M91.57,144.92 L96.13,144.92" fill="none" stroke="#000" stroke-width="0.91" stroke-linecap="round"/>
<text transform="matrix(0.16149 0.00000 0.00000 0.13585 96.414 156.600)" font-family="Liberation Serif" font-size="100" fill="#000" stroke="#000" stroke-width="0.54">2</text>
<clipPath id="cl2"><rect x="0" y="0" width="685" height="274.90"/></clipPath>
<g clip-path="url(#cl2)"><circle cx="95.75" cy="249.05" r="34.15" fill="url(#dark)"/><circle cx="95.75" cy="249.05" r="34.15" fill="url(#dotsdark)"/></g>
<rect x="52.7" y="275.9" width="88.4" height="5.10" fill="url(#hatch)"/>
<rect x="52.7" y="281.00" width="88.4" height="16.70" fill="#a98208"/>
<clipPath id="cy2"><rect x="52.7" y="281.00" width="88.4" height="16.70"/></clipPath><g clip-path="url(#cy2)">
<circle cx="47.35" cy="283.90" r="2.4" fill="#fad41e"/>
<line x1="50.68" y1="281.70" x2="50.68" y2="286.10" stroke="#8f6a04" stroke-width="0.8"/>
<circle cx="54.00" cy="283.90" r="2.4" fill="#fad41e"/>
<line x1="57.33" y1="281.70" x2="57.33" y2="286.10" stroke="#8f6a04" stroke-width="0.8"/>
<circle cx="60.65" cy="283.90" r="2.4" fill="#fad41e"/>
<line x1="63.98" y1="281.70" x2="63.98" y2="286.10" stroke="#8f6a04" stroke-width="0.8"/>
<circle cx="67.30" cy="283.90" r="2.4" fill="#fad41e"/>
<line x1="70.62" y1="281.70" x2="70.62" y2="286.10" stroke="#8f6a04" stroke-width="0.8"/>
<circle cx="73.95" cy="283.90" r="2.4" fill="#fad41e"/>
<line x1="77.28" y1="281.70" x2="77.28" y2="286.10" stroke="#8f6a04" stroke-width="0.8"/>
<circle cx="80.60" cy="283.90" r="2.4" fill="#fad41e"/>
<line x1="83.93" y1="281.70" x2="83.93" y2="286.10" stroke="#8f6a04" stroke-width="0.8"/>
<circle cx="87.25" cy="283.90" r="2.4" fill="#fad41e"/>
<line x1="90.58" y1="281.70" x2="90.58" y2="286.10" stroke="#8f6a04" stroke-width="0.8"/>
<circle cx="93.90" cy="283.90" r="2.4" fill="#fad41e"/>
<line x1="97.23" y1="281.70" x2="97.23" y2="286.10" stroke="#8f6a04" stroke-width="0.8"/>
<circle cx="100.55" cy="283.90" r="2.4" fill="#fad41e"/>
<line x1="103.88" y1="281.70" x2="103.88" y2="286.10" stroke="#8f6a04" stroke-width="0.8"/>
<circle cx="107.20" cy="283.90" r="2.4" fill="#fad41e"/>
<line x1="110.53" y1="281.70" x2="110.53" y2="286.10" stroke="#8f6a04" stroke-width="0.8"/>
<circle cx="113.85" cy="283.90" r="2.4" fill="#fad41e"/>
<line x1="117.18" y1="281.70" x2="117.18" y2="286.10" stroke="#8f6a04" stroke-width="0.8"/>
<circle cx="120.50" cy="283.90" r="2.4" fill="#fad41e"/>
<line x1="123.83" y1="281.70" x2="123.83" y2="286.10" stroke="#8f6a04" stroke-width="0.8"/>
<circle cx="127.15" cy="283.90" r="2.4" fill="#fad41e"/>
<line x1="130.48" y1="281.70" x2="130.48" y2="286.10" stroke="#8f6a04" stroke-width="0.8"/>
<circle cx="133.80" cy="283.90" r="2.4" fill="#fad41e"/>
<line x1="137.13" y1="281.70" x2="137.13" y2="286.10" stroke="#8f6a04" stroke-width="0.8"/>
<circle cx="140.45" cy="283.90" r="2.4" fill="#fad41e"/>
<line x1="143.78" y1="281.70" x2="143.78" y2="286.10" stroke="#8f6a04" stroke-width="0.8"/>
<line x1="52.7" y1="287.10" x2="141.1" y2="287.10" stroke="#e6d49a" stroke-width="0.6" stroke-dasharray="1.4,1.9"/>
<circle cx="50.68" cy="290.30" r="2.6" fill="#fad41e"/>
<line x1="54.00" y1="288.10" x2="54.00" y2="292.50" stroke="#8f6a04" stroke-width="0.8"/>
<circle cx="57.33" cy="290.30" r="2.6" fill="#fad41e"/>
<line x1="60.65" y1="288.10" x2="60.65" y2="292.50" stroke="#8f6a04" stroke-width="0.8"/>
<circle cx="63.98" cy="290.30" r="2.6" fill="#fad41e"/>
<line x1="67.30" y1="288.10" x2="67.30" y2="292.50" stroke="#8f6a04" stroke-width="0.8"/>
<circle cx="70.62" cy="290.30" r="2.6" fill="#fad41e"/>
<line x1="73.95" y1="288.10" x2="73.95" y2="292.50" stroke="#8f6a04" stroke-width="0.8"/>
<circle cx="77.28" cy="290.30" r="2.6" fill="#fad41e"/>
<line x1="80.60" y1="288.10" x2="80.60" y2="292.50" stroke="#8f6a04" stroke-width="0.8"/>
<circle cx="83.93" cy="290.30" r="2.6" fill="#fad41e"/>
<line x1="87.25" y1="288.10" x2="87.25" y2="292.50" stroke="#8f6a04" stroke-width="0.8"/>
<circle cx="90.58" cy="290.30" r="2.6" fill="#fad41e"/>
<line x1="93.90" y1="288.10" x2="93.90" y2="292.50" stroke="#8f6a04" stroke-width="0.8"/>
<circle cx="97.23" cy="290.30" r="2.6" fill="#fad41e"/>
<line x1="100.55" y1="288.10" x2="100.55" y2="292.50" stroke="#8f6a04" stroke-width="0.8"/>
<circle cx="103.88" cy="290.30" r="2.6" fill="#fad41e"/>
<line x1="107.20" y1="288.10" x2="107.20" y2="292.50" stroke="#8f6a04" stroke-width="0.8"/>
<circle cx="110.53" cy="290.30" r="2.6" fill="#fad41e"/>
<line x1="113.85" y1="288.10" x2="113.85" y2="292.50" stroke="#8f6a04" stroke-width="0.8"/>
<circle cx="117.18" cy="290.30" r="2.6" fill="#fad41e"/>
<line x1="120.50" y1="288.10" x2="120.50" y2="292.50" stroke="#8f6a04" stroke-width="0.8"/>
<circle cx="123.83" cy="290.30" r="2.6" fill="#fad41e"/>
<line x1="127.15" y1="288.10" x2="127.15" y2="292.50" stroke="#8f6a04" stroke-width="0.8"/>
<circle cx="130.48" cy="290.30" r="2.6" fill="#fad41e"/>
<line x1="133.80" y1="288.10" x2="133.80" y2="292.50" stroke="#8f6a04" stroke-width="0.8"/>
<circle cx="137.13" cy="290.30" r="2.6" fill="#fad41e"/>
<line x1="140.45" y1="288.10" x2="140.45" y2="292.50" stroke="#8f6a04" stroke-width="0.8"/>
<circle cx="143.78" cy="290.30" r="2.6" fill="#fad41e"/>
<line x1="147.10" y1="288.10" x2="147.10" y2="292.50" stroke="#8f6a04" stroke-width="0.8"/>
<line x1="52.7" y1="293.50" x2="141.1" y2="293.50" stroke="#e6d49a" stroke-width="0.6" stroke-dasharray="1.4,1.9"/>
<circle cx="47.35" cy="296.70" r="2.4" fill="#fad41e"/>
<line x1="50.68" y1="294.50" x2="50.68" y2="298.90" stroke="#8f6a04" stroke-width="0.8"/>
<circle cx="54.00" cy="296.70" r="2.4" fill="#fad41e"/>
<line x1="57.33" y1="294.50" x2="57.33" y2="298.90" stroke="#8f6a04" stroke-width="0.8"/>
<circle cx="60.65" cy="296.70" r="2.4" fill="#fad41e"/>
<line x1="63.98" y1="294.50" x2="63.98" y2="298.90" stroke="#8f6a04" stroke-width="0.8"/>
<circle cx="67.30" cy="296.70" r="2.4" fill="#fad41e"/>
<line x1="70.62" y1="294.50" x2="70.62" y2="298.90" stroke="#8f6a04" stroke-width="0.8"/>
<circle cx="73.95" cy="296.70" r="2.4" fill="#fad41e"/>
<line x1="77.28" y1="294.50" x2="77.28" y2="298.90" stroke="#8f6a04" stroke-width="0.8"/>
<circle cx="80.60" cy="296.70" r="2.4" fill="#fad41e"/>
<line x1="83.93" y1="294.50" x2="83.93" y2="298.90" stroke="#8f6a04" stroke-width="0.8"/>
<circle cx="87.25" cy="296.70" r="2.4" fill="#fad41e"/>
<line x1="90.58" y1="294.50" x2="90.58" y2="298.90" stroke="#8f6a04" stroke-width="0.8"/>
<circle cx="93.90" cy="296.70" r="2.4" fill="#fad41e"/>
<line x1="97.23" y1="294.50" x2="97.23" y2="298.90" stroke="#8f6a04" stroke-width="0.8"/>
<circle cx="100.55" cy="296.70" r="2.4" fill="#fad41e"/>
<line x1="103.88" y1="294.50" x2="103.88" y2="298.90" stroke="#8f6a04" stroke-width="0.8"/>
<circle cx="107.20" cy="296.70" r="2.4" fill="#fad41e"/>
<line x1="110.53" y1="294.50" x2="110.53" y2="298.90" stroke="#8f6a04" stroke-width="0.8"/>
<circle cx="113.85" cy="296.70" r="2.4" fill="#fad41e"/>
<line x1="117.18" y1="294.50" x2="117.18" y2="298.90" stroke="#8f6a04" stroke-width="0.8"/>
<circle cx="120.50" cy="296.70" r="2.4" fill="#fad41e"/>
<line x1="123.83" y1="294.50" x2="123.83" y2="298.90" stroke="#8f6a04" stroke-width="0.8"/>
<circle cx="127.15" cy="296.70" r="2.4" fill="#fad41e"/>
<line x1="130.48" y1="294.50" x2="130.48" y2="298.90" stroke="#8f6a04" stroke-width="0.8"/>
<circle cx="133.80" cy="296.70" r="2.4" fill="#fad41e"/>
<line x1="137.13" y1="294.50" x2="137.13" y2="298.90" stroke="#8f6a04" stroke-width="0.8"/>
<circle cx="140.45" cy="296.70" r="2.4" fill="#fad41e"/>
<line x1="143.78" y1="294.50" x2="143.78" y2="298.90" stroke="#8f6a04" stroke-width="0.8"/>
</g>
<line x1="75.00" y1="268.5" x2="116.00" y2="268.5" stroke="#000" stroke-width="1.7"/>
<path d="M72.00,268.5 L79.80,264.20 L77.62,268.5 L79.80,272.80 Z" fill="#000"/>
<path d="M119.00,268.5 L111.20,264.20 L113.38,268.5 L111.20,272.80 Z" fill="#000"/>
<path d="M99.54,243.58 C99.80,242.50 98.94,241.82 97.99,242.01 C97.13,242.21 96.79,243.28 96.53,244.36" fill="none" stroke="#000" stroke-width="0.91" stroke-linecap="round"/>
<path d="M96.53,244.36 L92.82,256.59" fill="none" stroke="#000" stroke-width="1.65" stroke-linecap="round"/>
<path d="M92.82,256.59 C92.48,257.96 91.96,259.14 91.10,259.23 C90.67,259.23 90.50,258.84 90.58,258.45" fill="none" stroke="#000" stroke-width="0.99" stroke-linecap="round"/>
<path d="M92.91,247.49 L97.39,247.49" fill="none" stroke="#000" stroke-width="0.91" stroke-linecap="round"/>
<text transform="matrix(0.14061 0.00000 0.00000 0.13978 97.832 258.960)" font-family="Liberation Serif" font-size="100" fill="#000" stroke="#000" stroke-width="0.57">3</text>
<clipPath id="cl3"><rect x="0" y="0" width="685" height="372.50"/></clipPath>
<g clip-path="url(#cl3)"><circle cx="97.25" cy="351.25" r="34.25" fill="url(#dark)"/><circle cx="97.25" cy="351.25" r="34.25" fill="url(#dotsdark)"/></g>
<rect x="52.7" y="373.5" width="88.4" height="5.10" fill="url(#hatch)"/>
<clipPath id="cg3"><rect x="52.7" y="378.60" width="88.4" height="6.60"/></clipPath><g clip-path="url(#cg3)">
<rect x="52.7" y="378.60" width="88.4" height="6.60" fill="#5a5a5a"/>
<circle cx="45.55" cy="381.90" r="2.55" fill="#8e8e8e"/>
<circle cx="52.20" cy="381.90" r="2.55" fill="#8e8e8e"/>
<circle cx="58.85" cy="381.90" r="2.55" fill="#8e8e8e"/>
<circle cx="65.50" cy="381.90" r="2.55" fill="#8e8e8e"/>
<circle cx="72.15" cy="381.90" r="2.55" fill="#8e8e8e"/>
<circle cx="78.80" cy="381.90" r="2.55" fill="#8e8e8e"/>
<circle cx="85.45" cy="381.90" r="2.55" fill="#8e8e8e"/>
<circle cx="92.10" cy="381.90" r="2.55" fill="#8e8e8e"/>
<circle cx="98.75" cy="381.90" r="2.55" fill="#8e8e8e"/>
<circle cx="105.40" cy="381.90" r="2.55" fill="#8e8e8e"/>
<circle cx="112.05" cy="381.90" r="2.55" fill="#8e8e8e"/>
<circle cx="118.70" cy="381.90" r="2.55" fill="#8e8e8e"/>
<circle cx="125.35" cy="381.90" r="2.55" fill="#8e8e8e"/>
<circle cx="132.00" cy="381.90" r="2.55" fill="#8e8e8e"/>
<circle cx="138.65" cy="381.90" r="2.55" fill="#8e8e8e"/>
</g>
<rect x="52.7" y="385.20" width="88.4" height="11.30" fill="#a98208"/>
<clipPath id="cy3"><rect x="52.7" y="385.20" width="88.4" height="11.30"/></clipPath><g clip-path="url(#cy3)">
<circle cx="49.15" cy="388.10" r="2.4" fill="#fad41e"/>
<line x1="52.48" y1="385.90" x2="52.48" y2="390.30" stroke="#8f6a04" stroke-width="0.8"/>
<circle cx="55.80" cy="388.10" r="2.4" fill="#fad41e"/>
<line x1="59.12" y1="385.90" x2="59.12" y2="390.30" stroke="#8f6a04" stroke-width="0.8"/>
<circle cx="62.45" cy="388.10" r="2.4" fill="#fad41e"/>
<line x1="65.77" y1="385.90" x2="65.77" y2="390.30" stroke="#8f6a04" stroke-width="0.8"/>
<circle cx="69.10" cy="388.10" r="2.4" fill="#fad41e"/>
<line x1="72.42" y1="385.90" x2="72.42" y2="390.30" stroke="#8f6a04" stroke-width="0.8"/>
<circle cx="75.75" cy="388.10" r="2.4" fill="#fad41e"/>
<line x1="79.08" y1="385.90" x2="79.08" y2="390.30" stroke="#8f6a04" stroke-width="0.8"/>
<circle cx="82.40" cy="388.10" r="2.4" fill="#fad41e"/>
<line x1="85.73" y1="385.90" x2="85.73" y2="390.30" stroke="#8f6a04" stroke-width="0.8"/>
<circle cx="89.05" cy="388.10" r="2.4" fill="#fad41e"/>
<line x1="92.38" y1="385.90" x2="92.38" y2="390.30" stroke="#8f6a04" stroke-width="0.8"/>
<circle cx="95.70" cy="388.10" r="2.4" fill="#fad41e"/>
<line x1="99.03" y1="385.90" x2="99.03" y2="390.30" stroke="#8f6a04" stroke-width="0.8"/>
<circle cx="102.35" cy="388.10" r="2.4" fill="#fad41e"/>
<line x1="105.68" y1="385.90" x2="105.68" y2="390.30" stroke="#8f6a04" stroke-width="0.8"/>
<circle cx="109.00" cy="388.10" r="2.4" fill="#fad41e"/>
<line x1="112.33" y1="385.90" x2="112.33" y2="390.30" stroke="#8f6a04" stroke-width="0.8"/>
<circle cx="115.65" cy="388.10" r="2.4" fill="#fad41e"/>
<line x1="118.98" y1="385.90" x2="118.98" y2="390.30" stroke="#8f6a04" stroke-width="0.8"/>
<circle cx="122.30" cy="388.10" r="2.4" fill="#fad41e"/>
<line x1="125.63" y1="385.90" x2="125.63" y2="390.30" stroke="#8f6a04" stroke-width="0.8"/>
<circle cx="128.95" cy="388.10" r="2.4" fill="#fad41e"/>
<line x1="132.28" y1="385.90" x2="132.28" y2="390.30" stroke="#8f6a04" stroke-width="0.8"/>
<circle cx="135.60" cy="388.10" r="2.4" fill="#fad41e"/>
<line x1="138.93" y1="385.90" x2="138.93" y2="390.30" stroke="#8f6a04" stroke-width="0.8"/>
<circle cx="142.25" cy="388.10" r="2.4" fill="#fad41e"/>
<line x1="145.58" y1="385.90" x2="145.58" y2="390.30" stroke="#8f6a04" stroke-width="0.8"/>
<line x1="52.7" y1="391.30" x2="141.1" y2="391.30" stroke="#e6d49a" stroke-width="0.6" stroke-dasharray="1.4,1.9"/>
<circle cx="52.48" cy="394.50" r="2.6" fill="#fad41e"/>
<line x1="55.80" y1="392.30" x2="55.80" y2="396.70" stroke="#8f6a04" stroke-width="0.8"/>
<circle cx="59.12" cy="394.50" r="2.6" fill="#fad41e"/>
<line x1="62.45" y1="392.30" x2="62.45" y2="396.70" stroke="#8f6a04" stroke-width="0.8"/>
<circle cx="65.78" cy="394.50" r="2.6" fill="#fad41e"/>
<line x1="69.10" y1="392.30" x2="69.10" y2="396.70" stroke="#8f6a04" stroke-width="0.8"/>
<circle cx="72.43" cy="394.50" r="2.6" fill="#fad41e"/>
<line x1="75.75" y1="392.30" x2="75.75" y2="396.70" stroke="#8f6a04" stroke-width="0.8"/>
<circle cx="79.08" cy="394.50" r="2.6" fill="#fad41e"/>
<line x1="82.40" y1="392.30" x2="82.40" y2="396.70" stroke="#8f6a04" stroke-width="0.8"/>
<circle cx="85.73" cy="394.50" r="2.6" fill="#fad41e"/>
<line x1="89.05" y1="392.30" x2="89.05" y2="396.70" stroke="#8f6a04" stroke-width="0.8"/>
<circle cx="92.38" cy="394.50" r="2.6" fill="#fad41e"/>
<line x1="95.70" y1="392.30" x2="95.70" y2="396.70" stroke="#8f6a04" stroke-width="0.8"/>
<circle cx="99.03" cy="394.50" r="2.6" fill="#fad41e"/>
<line x1="102.35" y1="392.30" x2="102.35" y2="396.70" stroke="#8f6a04" stroke-width="0.8"/>
<circle cx="105.68" cy="394.50" r="2.6" fill="#fad41e"/>
<line x1="109.00" y1="392.30" x2="109.00" y2="396.70" stroke="#8f6a04" stroke-width="0.8"/>
<circle cx="112.33" cy="394.50" r="2.6" fill="#fad41e"/>
<line x1="115.65" y1="392.30" x2="115.65" y2="396.70" stroke="#8f6a04" stroke-width="0.8"/>
<circle cx="118.98" cy="394.50" r="2.6" fill="#fad41e"/>
<line x1="122.30" y1="392.30" x2="122.30" y2="396.70" stroke="#8f6a04" stroke-width="0.8"/>
<circle cx="125.63" cy="394.50" r="2.6" fill="#fad41e"/>
<line x1="128.95" y1="392.30" x2="128.95" y2="396.70" stroke="#8f6a04" stroke-width="0.8"/>
<circle cx="132.28" cy="394.50" r="2.6" fill="#fad41e"/>
<line x1="135.60" y1="392.30" x2="135.60" y2="396.70" stroke="#8f6a04" stroke-width="0.8"/>
<circle cx="138.93" cy="394.50" r="2.6" fill="#fad41e"/>
<line x1="142.25" y1="392.30" x2="142.25" y2="396.70" stroke="#8f6a04" stroke-width="0.8"/>
</g>
<line x1="73.20" y1="365.4" x2="120.90" y2="365.4" stroke="#000" stroke-width="1.7"/>
<path d="M70.20,365.4 L78.00,361.10 L75.82,365.4 L78.00,369.70 Z" fill="#000"/>
<path d="M123.90,365.4 L116.10,361.10 L118.28,365.4 L116.10,369.70 Z" fill="#000"/>
<path d="M98.61,344.31 C98.88,343.24 97.99,342.56 97.00,342.75 C96.11,342.95 95.75,344.02 95.48,345.08" fill="none" stroke="#000" stroke-width="0.91" stroke-linecap="round"/>
<path d="M95.48,345.08 L91.63,357.22" fill="none" stroke="#000" stroke-width="1.65" stroke-linecap="round"/>
<path d="M91.63,357.22 C91.28,358.58 90.74,359.74 89.84,359.84 C89.40,359.84 89.22,359.45 89.31,359.06" fill="none" stroke="#000" stroke-width="0.99" stroke-linecap="round"/>
<path d="M91.72,348.19 L96.38,348.19" fill="none" stroke="#000" stroke-width="0.91" stroke-linecap="round"/>
<text transform="matrix(0.15376 0.00000 0.00000 0.13384 95.942 359.800)" font-family="Liberation Serif" font-size="100" fill="#000" stroke="#000" stroke-width="0.56">4</text>
<rect x="36.1" y="1.7" width="279.80" height="97.60" fill="none" stroke="#000" stroke-width="1.9"/>
<rect x="36.1" y="104.0" width="279.80" height="97.30" fill="none" stroke="#000" stroke-width="1.9"/>
<rect x="36.1" y="205.8" width="279.80" height="97.90" fill="none" stroke="#000" stroke-width="1.9"/>
<rect x="36.1" y="308.3" width="279.80" height="97.40" fill="none" stroke="#000" stroke-width="1.9"/>
<line x1="45.60" y1="405.70" x2="45.60" y2="402.10" stroke="#000" stroke-width="1.8"/>
<line x1="93.92" y1="405.70" x2="93.92" y2="402.10" stroke="#000" stroke-width="1.8"/>
<line x1="142.24" y1="405.70" x2="142.24" y2="402.10" stroke="#000" stroke-width="1.8"/>
<line x1="190.56" y1="405.70" x2="190.56" y2="402.10" stroke="#000" stroke-width="1.8"/>
<line x1="238.88" y1="405.70" x2="238.88" y2="402.10" stroke="#000" stroke-width="1.8"/>
<line x1="287.20" y1="405.70" x2="287.20" y2="402.10" stroke="#000" stroke-width="1.8"/>
<line x1="36.10" y1="37.00" x2="39.70" y2="37.00" stroke="#000" stroke-width="1.8"/>
<text transform="matrix(0.14725 0.00000 0.00000 0.14910 21.664 43.400)" font-family="Liberation Sans" font-size="100" fill="#000" stroke="#000" stroke-width="0.94">2</text>
<line x1="36.10" y1="152.70" x2="39.70" y2="152.70" stroke="#000" stroke-width="1.8"/>
<text transform="matrix(0.14725 0.00000 0.00000 0.14910 21.664 158.400)" font-family="Liberation Sans" font-size="100" fill="#000" stroke="#000" stroke-width="0.94">2</text>
<line x1="36.10" y1="253.90" x2="39.70" y2="253.90" stroke="#000" stroke-width="1.8"/>
<path d="M25.49,248.40 L26.86,248.40 L26.86,257.22 L29.20,257.22 L29.20,258.60 L23.20,258.60 L23.20,257.22 L25.49,257.22 L25.49,250.19 L23.40,251.15 L23.40,249.64 Z" fill="#000"/>
<line x1="36.10" y1="321.20" x2="39.70" y2="321.20" stroke="#000" stroke-width="1.8"/>
<path d="M25.45,315.60 L26.90,315.60 L26.90,324.94 L29.20,324.94 L29.20,326.40 L23.20,326.40 L23.20,324.94 L25.45,324.94 L25.45,317.50 L23.40,318.52 L23.40,316.91 Z" fill="#000"/>
<line x1="36.10" y1="405.70" x2="39.70" y2="405.70" stroke="#000" stroke-width="1.8"/>
<text transform="matrix(0.16335 0.00000 0.00000 0.15265 21.447 411.247)" font-family="Liberation Sans" font-size="100" fill="#000" stroke="#000" stroke-width="0.89">0</text>
<text transform="matrix(0.16899 0.00000 0.00000 0.15124 31.405 425.649)" font-family="Liberation Sans" font-size="100" fill="#000" stroke="#000" stroke-width="0.88">600</text>
<text transform="matrix(0.16899 0.00000 0.00000 0.15124 79.725 425.649)" font-family="Liberation Sans" font-size="100" fill="#000" stroke="#000" stroke-width="0.88">650</text>
<text transform="matrix(0.16899 0.00000 0.00000 0.15124 128.045 425.649)" font-family="Liberation Sans" font-size="100" fill="#000" stroke="#000" stroke-width="0.88">700</text>
<text transform="matrix(0.16899 0.00000 0.00000 0.15124 176.365 425.649)" font-family="Liberation Sans" font-size="100" fill="#000" stroke="#000" stroke-width="0.88">750</text>
<text transform="matrix(0.16819 0.00000 0.00000 0.15124 224.815 425.649)" font-family="Liberation Sans" font-size="100" fill="#000" stroke="#000" stroke-width="0.88">800</text>
<text transform="matrix(0.16819 0.00000 0.00000 0.15124 273.135 425.649)" font-family="Liberation Sans" font-size="100" fill="#000" stroke="#000" stroke-width="0.88">850</text>
<text transform="matrix(0.17238 0.00000 0.00000 0.15564 110.814 444.300)" font-family="Liberation Sans" font-size="100" fill="#000" stroke="#000" stroke-width="0.85">Wavelength (nm)</text>
<text transform="matrix(0.00000 -0.15776 0.15564 0.00000 12.000 283.002)" font-family="Liberation Sans" font-size="100" fill="#000" stroke="#000" stroke-width="0.89">Frequency (x100)</text>
<text transform="matrix(0.17864 0.00000 0.00000 0.21918 3.141 17.081)" font-family="Liberation Sans" font-size="100" fill="#000" stroke="#000" stroke-width="0.71">a</text>
<path d="M43.52,17.15 C44.15,16.34 45.25,15.94 46.06,16.04" fill="none" stroke="#000" stroke-width="1.05" stroke-linecap="round" stroke-linejoin="round"/>
<path d="M46.15,16.24 L44.79,22.80" fill="none" stroke="#000" stroke-width="1.70" stroke-linecap="round" stroke-linejoin="round"/>
<path d="M44.79,22.80 C44.52,24.11 44.88,24.71 45.52,24.51 C46.06,24.31 46.52,23.81 46.88,23.20" fill="none" stroke="#000" stroke-width="1.22" stroke-linecap="round" stroke-linejoin="round"/>
<ellipse cx="46.20" cy="13.01" rx="0.91" ry="1.01" fill="#000"/>
<path d="M43.65,122.00 C44.32,121.17 45.47,120.75 46.33,120.86" fill="none" stroke="#000" stroke-width="1.05" stroke-linecap="round" stroke-linejoin="round"/>
<path d="M46.42,121.06 L44.99,127.82" fill="none" stroke="#000" stroke-width="1.70" stroke-linecap="round" stroke-linejoin="round"/>
<path d="M44.99,127.82 C44.70,129.17 45.09,129.79 45.75,129.59 C46.33,129.38 46.81,128.86 47.19,128.23" fill="none" stroke="#000" stroke-width="1.22" stroke-linecap="round" stroke-linejoin="round"/>
<path d="M50.01,122.00 C50.68,121.17 51.83,120.75 52.69,120.86" fill="none" stroke="#000" stroke-width="1.05" stroke-linecap="round" stroke-linejoin="round"/>
<path d="M52.78,121.06 L51.35,127.82" fill="none" stroke="#000" stroke-width="1.70" stroke-linecap="round" stroke-linejoin="round"/>
<path d="M51.35,127.82 C51.06,129.17 51.45,129.79 52.11,129.59 C52.69,129.38 53.17,128.86 53.55,128.23" fill="none" stroke="#000" stroke-width="1.22" stroke-linecap="round" stroke-linejoin="round"/>
<ellipse cx="46.47" cy="117.74" rx="0.96" ry="1.04" fill="#000"/>
<ellipse cx="52.83" cy="117.74" rx="0.96" ry="1.04" fill="#000"/>
<path d="M43.66,215.30 C44.35,214.47 45.52,214.05 46.39,214.16" fill="none" stroke="#000" stroke-width="1.05" stroke-linecap="round" stroke-linejoin="round"/>
<path d="M46.49,214.36 L45.03,221.12" fill="none" stroke="#000" stroke-width="1.70" stroke-linecap="round" stroke-linejoin="round"/>
<path d="M45.03,221.12 C44.74,222.47 45.13,223.09 45.81,222.89 C46.39,222.68 46.88,222.16 47.27,221.53" fill="none" stroke="#000" stroke-width="1.22" stroke-linecap="round" stroke-linejoin="round"/>
<path d="M50.15,215.30 C50.83,214.47 52.00,214.05 52.88,214.16" fill="none" stroke="#000" stroke-width="1.05" stroke-linecap="round" stroke-linejoin="round"/>
<path d="M52.97,214.36 L51.51,221.12" fill="none" stroke="#000" stroke-width="1.70" stroke-linecap="round" stroke-linejoin="round"/>
<path d="M51.51,221.12 C51.22,222.47 51.61,223.09 52.29,222.89 C52.88,222.68 53.36,222.16 53.75,221.53" fill="none" stroke="#000" stroke-width="1.22" stroke-linecap="round" stroke-linejoin="round"/>
<path d="M56.63,215.30 C57.31,214.47 58.48,214.05 59.36,214.16" fill="none" stroke="#000" stroke-width="1.05" stroke-linecap="round" stroke-linejoin="round"/>
<path d="M59.46,214.36 L57.99,221.12" fill="none" stroke="#000" stroke-width="1.70" stroke-linecap="round" stroke-linejoin="round"/>
<path d="M57.99,221.12 C57.70,222.47 58.09,223.09 58.77,222.89 C59.36,222.68 59.85,222.16 60.24,221.53" fill="none" stroke="#000" stroke-width="1.22" stroke-linecap="round" stroke-linejoin="round"/>
<ellipse cx="46.54" cy="211.04" rx="0.97" ry="1.04" fill="#000"/>
<ellipse cx="53.02" cy="211.04" rx="0.97" ry="1.04" fill="#000"/>
<ellipse cx="59.51" cy="211.04" rx="0.97" ry="1.04" fill="#000"/>
<path d="M43.58,320.25 C44.29,319.44 45.49,319.04 46.40,319.14" fill="none" stroke="#000" stroke-width="1.05" stroke-linecap="round" stroke-linejoin="round"/>
<path d="M46.50,319.34 L44.99,325.90" fill="none" stroke="#000" stroke-width="1.70" stroke-linecap="round" stroke-linejoin="round"/>
<path d="M44.99,325.90 C44.69,327.21 45.09,327.81 45.80,327.61 C46.40,327.41 46.90,326.91 47.30,326.30" fill="none" stroke="#000" stroke-width="1.22" stroke-linecap="round" stroke-linejoin="round"/>
<path d="M49.57,320.45 C50.27,319.54 51.28,319.04 52.08,319.24" fill="none" stroke="#000" stroke-width="1.05" stroke-linecap="round" stroke-linejoin="round"/>
<path d="M52.28,319.54 C52.38,321.46 51.78,323.98 52.18,327.41" fill="none" stroke="#000" stroke-width="1.70" stroke-linecap="round" stroke-linejoin="round"/>
<path d="M52.18,327.41 C55.30,327.01 58.21,324.48 58.72,321.36" fill="none" stroke="#000" stroke-width="1.27" stroke-linecap="round" stroke-linejoin="round"/>
<path d="M58.72,321.36 C58.92,320.25 58.72,319.34 58.11,319.14" fill="none" stroke="#000" stroke-width="1.78" stroke-linecap="round" stroke-linejoin="round"/>
<ellipse cx="46.55" cy="316.11" rx="1.01" ry="1.01" fill="#000"/>
<clipPath id="clb"><rect x="407.8" y="1.7" width="225.40" height="183.30"/></clipPath>
<g clip-path="url(#clb)">
<path d="M407.60,165.56 L407.60,165.56 L408.00,164.93 L408.50,164.14 L409.00,163.35 L409.50,162.55 L410.00,161.75 L410.50,160.93 L411.00,160.11 L411.50,159.27 L412.00,158.41 L412.50,157.54 L413.00,156.65 L413.50,155.74 L414.00,154.80 L414.50,153.84 L415.00,152.86 L415.50,151.87 L416.00,150.86 L416.50,149.83 L417.00,148.80 L417.50,147.75 L418.00,146.70 L418.50,145.65 L419.00,144.59 L419.50,143.53 L420.00,142.48 L420.50,141.43 L421.00,140.39 L421.50,139.35 L422.00,138.32 L422.50,137.30 L423.00,136.29 L423.50,135.29 L424.00,134.30 L424.50,133.32 L425.00,132.37 L425.50,131.42 L426.00,130.50 L426.50,129.59 L427.00,128.70 L427.50,127.84 L428.00,126.99 L428.50,126.17 L429.00,125.38 L429.50,124.61 L430.00,123.87 L430.50,123.17 L431.00,122.50 L431.50,121.86 L432.00,121.27 L432.50,120.72 L433.00,120.22 L433.50,119.76 L434.00,119.35 L434.50,118.99 L435.00,118.69 L435.50,118.45 L436.00,118.26 L436.50,118.14 L437.00,118.08 L437.50,118.08 L438.00,118.15 L438.50,118.29 L439.00,118.48 L439.50,118.72 L440.00,119.02 L440.50,119.37 L441.00,119.77 L441.50,120.21 L442.00,120.69 L442.50,121.21 L443.00,121.77 L443.50,122.36 L444.00,122.97 L444.50,123.61 L445.00,124.28 L445.50,124.97 L446.00,125.67 L446.50,126.39 L447.00,127.11 L447.50,127.85 L448.00,128.59 L448.50,129.34 L449.00,130.08 L449.50,130.83 L450.00,131.56 L450.50,132.28 L451.00,133.00 L451.50,133.70 L452.00,134.38 L452.50,135.04 L453.00,135.70 L453.50,136.33 L454.00,136.96 L454.50,137.57 L455.00,138.18 L455.50,138.77 L456.00,139.35 L456.50,139.93 L457.00,140.49 L457.50,141.05 L458.00,141.61 L458.50,142.16 L459.00,142.70 L459.50,143.24 L460.00,143.78 L460.50,144.31 L461.00,144.85 L461.50,145.38 L462.00,145.91 L462.50,146.45 L463.00,146.99 L463.50,147.53 L464.00,148.06 L464.50,148.60 L465.00,149.14 L465.50,149.69 L466.00,150.23 L466.50,150.77 L467.00,151.31 L467.50,151.84 L468.00,152.38 L468.50,152.92 L469.00,153.45 L469.50,153.98 L470.00,154.51 L470.50,155.03 L471.00,155.56 L471.50,156.08 L472.00,156.59 L472.50,157.10 L473.00,157.61 L473.50,158.11 L474.00,158.61 L474.50,159.10 L475.00,159.59 L475.50,160.07 L476.00,160.54 L476.50,161.01 L477.00,161.48 L477.50,161.94 L478.00,162.39 L478.50,162.84 L479.00,163.28 L479.50,163.72 L480.00,164.15 L480.50,164.58 L481.00,165.00 L481.50,165.42 L482.00,165.83 L482.50,166.24 L483.00,166.64 L483.50,167.04 L484.00,167.43 L484.50,167.82 L485.00,168.21 L485.50,168.59 L486.00,168.96 L486.50,169.33 L487.00,169.70 L487.50,170.06 L488.00,170.42 L488.50,170.78 L489.00,171.12 L489.50,171.46 L490.00,171.80 L490.50,172.13 L491.00,172.45 L491.50,172.77 L492.00,173.08 L492.50,173.38 L493.00,173.67 L493.50,173.96 L494.00,174.23 L494.50,174.50 L495.00,174.76 L495.50,175.01 L496.00,175.25 L496.50,175.49 L497.00,175.71 L497.50,175.92 L498.00,176.12 L498.50,176.31 L499.00,176.48 L499.50,176.64 L500.00,176.78 L500.50,176.90 L501.00,177.01 L501.50,177.10 L502.00,177.16 L502.50,177.20 L503.00,177.21 L503.50,177.20 L504.00,177.16 L504.50,177.10 L505.00,177.00 L505.50,176.87 L506.00,176.71 L506.50,176.52 L507.00,176.29 L507.50,176.04 L508.00,175.75 L508.50,175.43 L509.00,175.09 L509.50,174.71 L510.00,174.30 L510.50,173.86 L511.00,173.38 L511.50,172.88 L512.00,172.35 L512.50,171.79 L513.00,171.20 L513.50,170.58 L514.00,169.93 L514.50,169.25 L515.00,168.54 L515.50,167.80 L516.00,167.03 L516.50,166.23 L517.00,165.40 L517.50,164.53 L518.00,163.64 L518.50,162.70 L519.00,161.73 L519.50,160.72 L520.00,159.68 L520.50,158.59 L521.00,157.47 L521.50,156.30 L522.00,155.09 L522.50,153.84 L523.00,152.54 L523.50,151.20 L524.00,149.81 L524.50,148.37 L525.00,146.88 L525.50,145.34 L526.00,143.73 L526.50,142.07 L527.00,140.33 L527.50,138.53 L528.00,136.64 L528.50,134.69 L529.00,132.64 L529.50,130.53 L530.00,128.34 L530.50,126.09 L531.00,123.78 L531.50,121.41 L532.00,119.00 L532.50,116.55 L533.00,114.07 L533.50,111.55 L534.00,109.02 L534.50,106.46 L535.00,103.90 L535.50,101.33 L536.00,98.76 L536.50,96.20 L537.00,93.63 L537.50,91.06 L538.00,88.47 L538.50,85.89 L539.00,83.30 L539.50,80.70 L540.00,78.11 L540.50,75.52 L541.00,72.94 L541.50,70.37 L542.00,67.81 L542.50,65.26 L543.00,62.73 L543.50,60.18 L544.00,57.61 L544.50,54.99 L545.00,52.36 L545.50,50.38 L546.00,47.00 L546.50,44.42 L547.00,41.80 L547.50,39.72 L548.00,36.15 L548.50,34.48 L549.00,32.42 L549.50,29.45 L550.00,28.10 L550.50,25.72 L551.00,23.41 L551.50,21.86 L552.00,19.55 L552.50,18.32 L553.00,17.72 L553.50,15.46 L554.00,15.24 L554.50,13.53 L555.00,13.01 L555.50,11.92 L556.00,10.50 L556.50,10.61 L557.00,10.55 L557.50,9.88 L558.00,9.77 L558.50,10.46 L559.00,10.34 L559.50,10.34 L560.00,11.20 L560.50,12.37 L561.00,12.65 L561.50,14.01 L562.00,15.20 L562.50,15.76 L563.00,16.53 L563.50,17.74 L564.00,19.53 L564.50,21.26 L565.00,22.51 L565.50,24.12 L566.00,25.31 L566.50,27.15 L567.00,28.46 L567.50,30.11 L568.00,31.37 L568.50,32.88 L569.00,34.88 L569.50,36.29 L570.00,37.98 L570.50,40.21 L571.00,41.60 L571.50,44.35 L572.00,45.36 L572.50,46.54 L573.00,48.78 L573.50,50.41 L574.00,51.84 L574.50,54.29 L575.00,55.48 L575.50,56.56 L576.00,59.82 L576.50,61.27 L577.00,63.98 L577.50,65.24 L578.00,67.10 L578.50,70.13 L579.00,71.29 L579.50,73.81 L580.00,76.31 L580.50,77.87 L581.00,79.79 L581.50,81.79 L582.00,83.95 L582.50,85.06 L583.00,87.36 L583.50,88.97 L584.00,91.32 L584.50,91.61 L585.00,92.77 L585.50,94.96 L586.00,95.76 L586.50,97.43 L587.00,98.66 L587.50,100.50 L588.00,100.79 L588.50,102.36 L589.00,102.20 L589.50,104.38 L590.00,107.04 L590.50,106.90 L591.00,108.04 L591.50,108.84 L592.00,111.10 L592.50,111.92 L593.00,112.05 L593.50,114.33 L594.00,115.03 L594.50,116.33 L595.00,116.23 L595.50,118.84 L596.00,118.69 L596.50,119.08 L597.00,119.52 L597.50,120.45 L598.00,122.02 L598.50,121.78 L599.00,123.52 L599.50,123.72 L600.00,124.96 L600.50,125.07 L601.00,124.85 L601.50,123.73 L602.00,126.20 L602.50,127.13 L603.00,127.03 L603.50,127.86 L604.00,127.34 L604.50,127.86 L605.00,127.73 L605.50,130.42 L606.00,129.66 L606.50,129.42 L607.00,128.97 L607.50,130.59 L608.00,132.68 L608.50,132.06 L609.00,131.20 L609.50,133.94 L610.00,134.36 L610.50,134.27 L611.00,134.46 L611.50,135.27 L612.00,134.97 L612.50,135.62 L613.00,134.17 L613.50,137.23 L614.00,136.09 L614.50,138.61 L615.00,134.00 L615.50,137.71 L616.00,138.39 L616.50,137.05 L617.00,138.37 L617.50,139.06 L618.00,139.14 L618.50,137.97 L619.00,138.76 L619.50,140.58 L620.00,141.20 L620.50,139.86 L621.00,140.07 L621.50,140.48 L622.00,141.89 L622.50,139.17 L623.00,138.98 L623.50,141.27 L624.00,139.69 L624.50,140.64 L625.00,141.82 L625.50,142.61 L626.00,140.47 L626.50,143.48 L627.00,139.74 L627.50,143.46 L628.00,140.35 L628.50,140.98 L629.00,144.16 L629.50,142.67 L630.00,142.21 L630.50,142.94 L631.00,144.56 L631.50,143.89 L631.90,144.06 L631.90,145.80 L631.90,142.96 L631.90,143.36" fill="none" stroke="#1b9e77" stroke-width="1.7" stroke-linejoin="round"/>
<path d="M407.60,168.05 L407.60,168.05 L408.00,167.44 L408.50,166.68 L409.00,165.92 L409.50,165.16 L410.00,164.39 L410.50,163.61 L411.00,162.83 L411.50,162.03 L412.00,161.22 L412.50,160.40 L413.00,159.57 L413.50,158.72 L414.00,157.85 L414.50,156.97 L415.00,156.07 L415.50,155.16 L416.00,154.24 L416.50,153.32 L417.00,152.39 L417.50,151.46 L418.00,150.53 L418.50,149.60 L419.00,148.68 L419.50,147.77 L420.00,146.87 L420.50,145.98 L421.00,145.10 L421.50,144.24 L422.00,143.38 L422.50,142.54 L423.00,141.71 L423.50,140.89 L424.00,140.08 L424.50,139.29 L425.00,138.51 L425.50,137.74 L426.00,136.98 L426.50,136.24 L427.00,135.51 L427.50,134.80 L428.00,134.10 L428.50,133.41 L429.00,132.74 L429.50,132.09 L430.00,131.46 L430.50,130.85 L431.00,130.27 L431.50,129.71 L432.00,129.19 L432.50,128.71 L433.00,128.26 L433.50,127.85 L434.00,127.48 L434.50,127.16 L435.00,126.89 L435.50,126.66 L436.00,126.49 L436.50,126.37 L437.00,126.32 L437.50,126.32 L438.00,126.38 L438.50,126.50 L439.00,126.66 L439.50,126.88 L440.00,127.13 L440.50,127.42 L441.00,127.75 L441.50,128.12 L442.00,128.51 L442.50,128.94 L443.00,129.40 L443.50,129.88 L444.00,130.39 L444.50,130.93 L445.00,131.48 L445.50,132.06 L446.00,132.65 L446.50,133.26 L447.00,133.89 L447.50,134.53 L448.00,135.18 L448.50,135.83 L449.00,136.50 L449.50,137.17 L450.00,137.85 L450.50,138.52 L451.00,139.20 L451.50,139.87 L452.00,140.54 L452.50,141.21 L453.00,141.87 L453.50,142.53 L454.00,143.18 L454.50,143.83 L455.00,144.46 L455.50,145.09 L456.00,145.71 L456.50,146.32 L457.00,146.91 L457.50,147.50 L458.00,148.07 L458.50,148.63 L459.00,149.17 L459.50,149.70 L460.00,150.21 L460.50,150.70 L461.00,151.18 L461.50,151.64 L462.00,152.08 L462.50,152.50 L463.00,152.90 L463.50,153.28 L464.00,153.64 L464.50,153.99 L465.00,154.32 L465.50,154.63 L466.00,154.94 L466.50,155.23 L467.00,155.51 L467.50,155.78 L468.00,156.05 L468.50,156.31 L469.00,156.56 L469.50,156.81 L470.00,157.06 L470.50,157.31 L471.00,157.55 L471.50,157.80 L472.00,158.05 L472.50,158.30 L473.00,158.56 L473.50,158.83 L474.00,159.10 L474.50,159.38 L475.00,159.67 L475.50,159.97 L476.00,160.28 L476.50,160.60 L477.00,160.93 L477.50,161.27 L478.00,161.61 L478.50,161.96 L479.00,162.31 L479.50,162.67 L480.00,163.03 L480.50,163.39 L481.00,163.75 L481.50,164.12 L482.00,164.48 L482.50,164.84 L483.00,165.20 L483.50,165.55 L484.00,165.90 L484.50,166.25 L485.00,166.58 L485.50,166.91 L486.00,167.24 L486.50,167.55 L487.00,167.85 L487.50,168.15 L488.00,168.43 L488.50,168.71 L489.00,168.98 L489.50,169.24 L490.00,169.49 L490.50,169.74 L491.00,169.97 L491.50,170.21 L492.00,170.43 L492.50,170.64 L493.00,170.85 L493.50,171.06 L494.00,171.26 L494.50,171.45 L495.00,171.63 L495.50,171.81 L496.00,171.99 L496.50,172.16 L497.00,172.33 L497.50,172.49 L498.00,172.65 L498.50,172.80 L499.00,172.95 L499.50,173.09 L500.00,173.22 L500.50,173.35 L501.00,173.47 L501.50,173.58 L502.00,173.68 L502.50,173.77 L503.00,173.85 L503.50,173.93 L504.00,173.99 L504.50,174.04 L505.00,174.07 L505.50,174.10 L506.00,174.11 L506.50,174.10 L507.00,174.09 L507.50,174.05 L508.00,174.01 L508.50,173.94 L509.00,173.85 L509.50,173.75 L510.00,173.63 L510.50,173.49 L511.00,173.32 L511.50,173.14 L512.00,172.93 L512.50,172.70 L513.00,172.44 L513.50,172.16 L514.00,171.85 L514.50,171.52 L515.00,171.16 L515.50,170.77 L516.00,170.35 L516.50,169.91 L517.00,169.43 L517.50,168.94 L518.00,168.41 L518.50,167.86 L519.00,167.28 L519.50,166.68 L520.00,166.06 L520.50,165.41 L521.00,164.74 L521.50,164.05 L522.00,163.33 L522.50,162.59 L523.00,161.83 L523.50,161.05 L524.00,160.25 L524.50,159.43 L525.00,158.59 L525.50,157.73 L526.00,156.85 L526.50,155.95 L527.00,155.04 L527.50,154.11 L528.00,153.16 L528.50,152.19 L529.00,151.21 L529.50,150.22 L530.00,149.21 L530.50,148.17 L531.00,147.11 L531.50,146.02 L532.00,144.88 L532.50,143.70 L533.00,142.47 L533.50,141.18 L534.00,139.82 L534.50,138.39 L535.00,136.88 L535.50,135.29 L536.00,133.61 L536.50,131.86 L537.00,130.04 L537.50,128.15 L538.00,126.19 L538.50,124.17 L539.00,122.09 L539.50,119.95 L540.00,117.77 L540.50,115.54 L541.00,113.26 L541.50,110.95 L542.00,108.60 L542.50,106.21 L543.00,103.80 L543.50,101.36 L544.00,98.91 L544.50,96.44 L545.00,93.99 L545.50,91.46 L546.00,89.45 L546.50,87.38 L547.00,84.79 L547.50,82.62 L548.00,80.61 L548.50,78.72 L549.00,77.24 L549.50,75.06 L550.00,73.52 L550.50,71.63 L551.00,69.72 L551.50,68.71 L552.00,66.50 L552.50,65.36 L553.00,64.41 L553.50,62.07 L554.00,61.02 L554.50,59.07 L555.00,58.02 L555.50,56.24 L556.00,55.21 L556.50,53.75 L557.00,52.63 L557.50,51.84 L558.00,50.15 L558.50,49.14 L559.00,47.82 L559.50,46.78 L560.00,45.70 L560.50,44.59 L561.00,44.58 L561.50,44.57 L562.00,43.73 L562.50,43.07 L563.00,43.66 L563.50,42.87 L564.00,42.88 L564.50,42.85 L565.00,43.22 L565.50,43.85 L566.00,45.11 L566.50,44.89 L567.00,45.22 L567.50,46.07 L568.00,46.95 L568.50,47.23 L569.00,48.73 L569.50,49.81 L570.00,50.59 L570.50,51.62 L571.00,51.91 L571.50,52.75 L572.00,54.78 L572.50,55.73 L573.00,55.84 L573.50,57.49 L574.00,58.49 L574.50,59.76 L575.00,60.73 L575.50,61.59 L576.00,62.96 L576.50,64.08 L577.00,65.16 L577.50,65.69 L578.00,66.47 L578.50,68.42 L579.00,69.32 L579.50,71.19 L580.00,72.56 L580.50,73.63 L581.00,74.62 L581.50,76.02 L582.00,77.71 L582.50,78.19 L583.00,80.13 L583.50,81.31 L584.00,82.38 L584.50,84.20 L585.00,84.45 L585.50,86.53 L586.00,86.87 L586.50,88.21 L587.00,89.31 L587.50,91.37 L588.00,91.86 L588.50,93.64 L589.00,94.19 L589.50,96.68 L590.00,98.34 L590.50,98.56 L591.00,100.60 L591.50,101.05 L592.00,103.21 L592.50,102.94 L593.00,102.86 L593.50,105.95 L594.00,105.82 L594.50,106.11 L595.00,107.28 L595.50,107.43 L596.00,109.34 L596.50,109.46 L597.00,112.20 L597.50,112.33 L598.00,111.20 L598.50,112.00 L599.00,113.43 L599.50,112.94 L600.00,115.09 L600.50,115.75 L601.00,115.71 L601.50,116.48 L602.00,117.97 L602.50,119.37 L603.00,119.99 L603.50,119.17 L604.00,120.47 L604.50,119.45 L605.00,121.07 L605.50,120.22 L606.00,122.40 L606.50,120.91 L607.00,121.67 L607.50,123.14 L608.00,124.23 L608.50,122.61 L609.00,124.04 L609.50,125.25 L610.00,125.83 L610.50,125.12 L611.00,126.64 L611.50,126.69 L612.00,129.06 L612.50,128.54 L613.00,126.78 L613.50,126.16 L614.00,129.32 L614.50,131.05 L615.00,130.24 L615.50,131.52 L616.00,130.21 L616.50,129.47 L617.00,132.51 L617.50,132.04 L618.00,133.14 L618.50,130.77 L619.00,133.14 L619.50,132.37 L620.00,134.59 L620.50,132.99 L621.00,133.23 L621.50,133.52 L622.00,136.36 L622.50,134.88 L623.00,134.00 L623.50,133.84 L624.00,134.03 L624.50,137.90 L625.00,133.30 L625.50,134.92 L626.00,137.34 L626.50,138.37 L627.00,136.55 L627.50,138.17 L628.00,138.33 L628.50,138.87 L629.00,137.58 L629.50,140.31 L630.00,138.21 L630.50,140.51 L631.00,136.47 L631.50,139.91 L631.90,136.54 L631.90,136.15 L631.90,139.35 L631.90,137.23" fill="none" stroke="#d95f02" stroke-width="1.7" stroke-linejoin="round"/>
<path d="M407.60,163.64 L407.60,163.64 L408.00,162.94 L408.50,162.06 L409.00,161.18 L409.50,160.30 L410.00,159.42 L410.50,158.53 L411.00,157.63 L411.50,156.73 L412.00,155.82 L412.50,154.90 L413.00,153.96 L413.50,153.02 L414.00,152.06 L414.50,151.09 L415.00,150.11 L415.50,149.12 L416.00,148.13 L416.50,147.14 L417.00,146.15 L417.50,145.15 L418.00,144.17 L418.50,143.19 L419.00,142.22 L419.50,141.26 L420.00,140.32 L420.50,139.39 L421.00,138.48 L421.50,137.59 L422.00,136.71 L422.50,135.85 L423.00,135.00 L423.50,134.17 L424.00,133.37 L424.50,132.58 L425.00,131.81 L425.50,131.06 L426.00,130.33 L426.50,129.62 L427.00,128.93 L427.50,128.26 L428.00,127.62 L428.50,127.00 L429.00,126.40 L429.50,125.83 L430.00,125.28 L430.50,124.76 L431.00,124.27 L431.50,123.81 L432.00,123.39 L432.50,123.00 L433.00,122.64 L433.50,122.32 L434.00,122.03 L434.50,121.79 L435.00,121.59 L435.50,121.43 L436.00,121.31 L436.50,121.24 L437.00,121.21 L437.50,121.24 L438.00,121.30 L438.50,121.42 L439.00,121.57 L439.50,121.77 L440.00,122.00 L440.50,122.27 L441.00,122.58 L441.50,122.92 L442.00,123.28 L442.50,123.67 L443.00,124.09 L443.50,124.53 L444.00,125.00 L444.50,125.48 L445.00,125.98 L445.50,126.49 L446.00,127.02 L446.50,127.56 L447.00,128.10 L447.50,128.65 L448.00,129.21 L448.50,129.77 L449.00,130.33 L449.50,130.88 L450.00,131.43 L450.50,131.98 L451.00,132.52 L451.50,133.04 L452.00,133.56 L452.50,134.06 L453.00,134.56 L453.50,135.04 L454.00,135.51 L454.50,135.97 L455.00,136.42 L455.50,136.85 L456.00,137.28 L456.50,137.70 L457.00,138.10 L457.50,138.50 L458.00,138.89 L458.50,139.26 L459.00,139.63 L459.50,139.98 L460.00,140.32 L460.50,140.66 L461.00,140.98 L461.50,141.30 L462.00,141.60 L462.50,141.90 L463.00,142.19 L463.50,142.47 L464.00,142.73 L464.50,143.00 L465.00,143.25 L465.50,143.50 L466.00,143.74 L466.50,143.98 L467.00,144.22 L467.50,144.45 L468.00,144.67 L468.50,144.89 L469.00,145.12 L469.50,145.34 L470.00,145.55 L470.50,145.77 L471.00,145.99 L471.50,146.21 L472.00,146.43 L472.50,146.65 L473.00,146.88 L473.50,147.11 L474.00,147.34 L474.50,147.58 L475.00,147.82 L475.50,148.07 L476.00,148.32 L476.50,148.58 L477.00,148.84 L477.50,149.11 L478.00,149.39 L478.50,149.67 L479.00,149.95 L479.50,150.24 L480.00,150.54 L480.50,150.84 L481.00,151.15 L481.50,151.46 L482.00,151.77 L482.50,152.09 L483.00,152.42 L483.50,152.75 L484.00,153.08 L484.50,153.42 L485.00,153.77 L485.50,154.12 L486.00,154.47 L486.50,154.83 L487.00,155.19 L487.50,155.55 L488.00,155.92 L488.50,156.30 L489.00,156.67 L489.50,157.05 L490.00,157.43 L490.50,157.81 L491.00,158.19 L491.50,158.57 L492.00,158.95 L492.50,159.33 L493.00,159.71 L493.50,160.09 L494.00,160.47 L494.50,160.85 L495.00,161.22 L495.50,161.59 L496.00,161.96 L496.50,162.32 L497.00,162.68 L497.50,163.04 L498.00,163.39 L498.50,163.74 L499.00,164.08 L499.50,164.41 L500.00,164.74 L500.50,165.06 L501.00,165.38 L501.50,165.69 L502.00,165.99 L502.50,166.28 L503.00,166.57 L503.50,166.85 L504.00,167.12 L504.50,167.38 L505.00,167.63 L505.50,167.87 L506.00,168.10 L506.50,168.32 L507.00,168.53 L507.50,168.74 L508.00,168.92 L508.50,169.10 L509.00,169.27 L509.50,169.42 L510.00,169.56 L510.50,169.69 L511.00,169.81 L511.50,169.91 L512.00,169.99 L512.50,170.07 L513.00,170.13 L513.50,170.17 L514.00,170.20 L514.50,170.21 L515.00,170.20 L515.50,170.18 L516.00,170.14 L516.50,170.09 L517.00,170.01 L517.50,169.92 L518.00,169.81 L518.50,169.68 L519.00,169.53 L519.50,169.35 L520.00,169.16 L520.50,168.95 L521.00,168.71 L521.50,168.45 L522.00,168.17 L522.50,167.86 L523.00,167.54 L523.50,167.18 L524.00,166.80 L524.50,166.40 L525.00,165.97 L525.50,165.51 L526.00,165.03 L526.50,164.52 L527.00,163.98 L527.50,163.41 L528.00,162.82 L528.50,162.20 L529.00,161.54 L529.50,160.86 L530.00,160.14 L530.50,159.39 L531.00,158.62 L531.50,157.81 L532.00,156.96 L532.50,156.09 L533.00,155.18 L533.50,154.23 L534.00,153.25 L534.50,152.24 L535.00,151.19 L535.50,150.11 L536.00,148.98 L536.50,147.83 L537.00,146.64 L537.50,145.42 L538.00,144.17 L538.50,142.88 L539.00,141.57 L539.50,140.24 L540.00,138.88 L540.50,137.49 L541.00,136.08 L541.50,134.65 L542.00,133.19 L542.50,131.72 L543.00,130.23 L543.50,128.73 L544.00,127.20 L544.50,125.67 L545.00,124.12 L545.50,122.61 L546.00,120.83 L546.50,119.66 L547.00,117.81 L547.50,116.04 L548.00,114.71 L548.50,112.84 L549.00,110.88 L549.50,109.41 L550.00,107.92 L550.50,106.43 L551.00,105.02 L551.50,103.71 L552.00,101.98 L552.50,100.82 L553.00,99.05 L553.50,96.94 L554.00,95.96 L554.50,94.14 L555.00,91.85 L555.50,90.33 L556.00,88.75 L556.50,86.53 L557.00,84.83 L557.50,82.61 L558.00,80.71 L558.50,78.36 L559.00,76.63 L559.50,74.44 L560.00,72.94 L560.50,70.33 L561.00,69.35 L561.50,68.11 L562.00,66.44 L562.50,64.95 L563.00,63.99 L563.50,62.47 L564.00,61.53 L564.50,60.83 L565.00,60.08 L565.50,59.69 L566.00,58.27 L566.50,58.18 L567.00,56.54 L567.50,56.11 L568.00,55.69 L568.50,55.47 L569.00,54.24 L569.50,53.15 L570.00,53.54 L570.50,52.94 L571.00,52.19 L571.50,51.89 L572.00,51.77 L572.50,51.89 L573.00,52.02 L573.50,51.28 L574.00,52.70 L574.50,52.06 L575.00,52.20 L575.50,52.89 L576.00,53.09 L576.50,54.34 L577.00,54.43 L577.50,54.51 L578.00,55.15 L578.50,55.81 L579.00,56.61 L579.50,57.76 L580.00,58.13 L580.50,59.82 L581.00,60.11 L581.50,61.03 L582.00,62.44 L582.50,62.23 L583.00,63.66 L583.50,65.36 L584.00,66.14 L584.50,67.19 L585.00,68.44 L585.50,69.02 L586.00,70.29 L586.50,70.75 L587.00,71.53 L587.50,74.26 L588.00,74.14 L588.50,75.32 L589.00,77.61 L589.50,78.51 L590.00,78.66 L590.50,79.74 L591.00,81.11 L591.50,81.66 L592.00,83.73 L592.50,84.59 L593.00,85.71 L593.50,87.27 L594.00,88.40 L594.50,90.35 L595.00,91.30 L595.50,90.11 L596.00,93.22 L596.50,92.88 L597.00,93.82 L597.50,96.69 L598.00,96.76 L598.50,98.25 L599.00,100.56 L599.50,100.25 L600.00,101.14 L600.50,103.22 L601.00,104.98 L601.50,105.29 L602.00,104.26 L602.50,105.84 L603.00,107.01 L603.50,109.63 L604.00,109.29 L604.50,109.86 L605.00,110.79 L605.50,109.86 L606.00,111.20 L606.50,111.76 L607.00,110.82 L607.50,112.35 L608.00,113.52 L608.50,112.33 L609.00,114.90 L609.50,115.40 L610.00,116.26 L610.50,114.80 L611.00,116.31 L611.50,118.37 L612.00,118.14 L612.50,116.81 L613.00,118.49 L613.50,120.39 L614.00,119.07 L614.50,120.07 L615.00,123.19 L615.50,120.41 L616.00,120.72 L616.50,119.96 L617.00,120.74 L617.50,123.82 L618.00,122.04 L618.50,120.94 L619.00,121.53 L619.50,123.01 L620.00,124.26 L620.50,122.42 L621.00,124.60 L621.50,123.10 L622.00,124.43 L622.50,124.80 L623.00,125.05 L623.50,123.66 L624.00,124.13 L624.50,125.19 L625.00,122.61 L625.50,124.83 L626.00,125.38 L626.50,126.23 L627.00,124.61 L627.50,124.41 L628.00,124.92 L628.50,123.56 L629.00,124.37 L629.50,125.35 L630.00,125.14 L630.50,123.00 L631.00,124.14 L631.50,121.26 L631.90,125.91 L631.90,123.77 L631.90,125.01 L631.90,122.86" fill="none" stroke="#7570b3" stroke-width="1.7" stroke-linejoin="round"/>
<path d="M407.60,165.05 L407.60,165.05 L408.00,164.45 L408.50,163.69 L409.00,162.94 L409.50,162.17 L410.00,161.41 L410.50,160.63 L411.00,159.84 L411.50,159.05 L412.00,158.24 L412.50,157.42 L413.00,156.58 L413.50,155.72 L414.00,154.85 L414.50,153.95 L415.00,153.05 L415.50,152.12 L416.00,151.19 L416.50,150.25 L417.00,149.30 L417.50,148.34 L418.00,147.39 L418.50,146.43 L419.00,145.48 L419.50,144.54 L420.00,143.60 L420.50,142.66 L421.00,141.74 L421.50,140.83 L422.00,139.93 L422.50,139.05 L423.00,138.18 L423.50,137.33 L424.00,136.49 L424.50,135.67 L425.00,134.88 L425.50,134.10 L426.00,133.34 L426.50,132.61 L427.00,131.90 L427.50,131.22 L428.00,130.57 L428.50,129.94 L429.00,129.35 L429.50,128.78 L430.00,128.25 L430.50,127.74 L431.00,127.27 L431.50,126.83 L432.00,126.43 L432.50,126.05 L433.00,125.72 L433.50,125.42 L434.00,125.15 L434.50,124.93 L435.00,124.74 L435.50,124.59 L436.00,124.48 L436.50,124.41 L437.00,124.37 L437.50,124.39 L438.00,124.44 L438.50,124.53 L439.00,124.65 L439.50,124.82 L440.00,125.01 L440.50,125.24 L441.00,125.50 L441.50,125.79 L442.00,126.11 L442.50,126.45 L443.00,126.82 L443.50,127.21 L444.00,127.62 L444.50,128.05 L445.00,128.50 L445.50,128.97 L446.00,129.45 L446.50,129.94 L447.00,130.45 L447.50,130.97 L448.00,131.49 L448.50,132.03 L449.00,132.57 L449.50,133.11 L450.00,133.65 L450.50,134.20 L451.00,134.74 L451.50,135.28 L452.00,135.82 L452.50,136.36 L453.00,136.89 L453.50,137.42 L454.00,137.94 L454.50,138.46 L455.00,138.98 L455.50,139.48 L456.00,139.99 L456.50,140.48 L457.00,140.97 L457.50,141.45 L458.00,141.93 L458.50,142.40 L459.00,142.86 L459.50,143.31 L460.00,143.75 L460.50,144.19 L461.00,144.62 L461.50,145.03 L462.00,145.44 L462.50,145.84 L463.00,146.23 L463.50,146.60 L464.00,146.97 L464.50,147.33 L465.00,147.68 L465.50,148.02 L466.00,148.35 L466.50,148.68 L467.00,148.99 L467.50,149.30 L468.00,149.60 L468.50,149.90 L469.00,150.18 L469.50,150.47 L470.00,150.74 L470.50,151.01 L471.00,151.27 L471.50,151.53 L472.00,151.78 L472.50,152.03 L473.00,152.27 L473.50,152.51 L474.00,152.74 L474.50,152.97 L475.00,153.20 L475.50,153.42 L476.00,153.64 L476.50,153.86 L477.00,154.08 L477.50,154.29 L478.00,154.50 L478.50,154.71 L479.00,154.92 L479.50,155.13 L480.00,155.33 L480.50,155.54 L481.00,155.74 L481.50,155.95 L482.00,156.15 L482.50,156.36 L483.00,156.56 L483.50,156.77 L484.00,156.98 L484.50,157.19 L485.00,157.40 L485.50,157.61 L486.00,157.83 L486.50,158.05 L487.00,158.27 L487.50,158.49 L488.00,158.72 L488.50,158.95 L489.00,159.17 L489.50,159.40 L490.00,159.63 L490.50,159.86 L491.00,160.09 L491.50,160.32 L492.00,160.55 L492.50,160.78 L493.00,161.01 L493.50,161.24 L494.00,161.46 L494.50,161.69 L495.00,161.91 L495.50,162.12 L496.00,162.34 L496.50,162.55 L497.00,162.76 L497.50,162.97 L498.00,163.17 L498.50,163.37 L499.00,163.56 L499.50,163.75 L500.00,163.94 L500.50,164.13 L501.00,164.31 L501.50,164.49 L502.00,164.67 L502.50,164.84 L503.00,165.01 L503.50,165.18 L504.00,165.35 L504.50,165.52 L505.00,165.69 L505.50,165.85 L506.00,166.02 L506.50,166.18 L507.00,166.35 L507.50,166.51 L508.00,166.67 L508.50,166.83 L509.00,167.00 L509.50,167.16 L510.00,167.32 L510.50,167.47 L511.00,167.63 L511.50,167.78 L512.00,167.92 L512.50,168.06 L513.00,168.19 L513.50,168.31 L514.00,168.43 L514.50,168.53 L515.00,168.63 L515.50,168.71 L516.00,168.78 L516.50,168.84 L517.00,168.89 L517.50,168.92 L518.00,168.94 L518.50,168.94 L519.00,168.93 L519.50,168.91 L520.00,168.86 L520.50,168.81 L521.00,168.73 L521.50,168.64 L522.00,168.53 L522.50,168.41 L523.00,168.26 L523.50,168.10 L524.00,167.92 L524.50,167.72 L525.00,167.50 L525.50,167.26 L526.00,167.00 L526.50,166.72 L527.00,166.42 L527.50,166.10 L528.00,165.76 L528.50,165.39 L529.00,165.00 L529.50,164.59 L530.00,164.16 L530.50,163.70 L531.00,163.22 L531.50,162.71 L532.00,162.18 L532.50,161.62 L533.00,161.04 L533.50,160.43 L534.00,159.80 L534.50,159.13 L535.00,158.45 L535.50,157.73 L536.00,156.99 L536.50,156.22 L537.00,155.43 L537.50,154.62 L538.00,153.78 L538.50,152.93 L539.00,152.06 L539.50,151.17 L540.00,150.27 L540.50,149.35 L541.00,148.42 L541.50,147.47 L542.00,146.50 L542.50,145.51 L543.00,144.50 L543.50,143.47 L544.00,142.42 L544.50,141.34 L545.00,140.24 L545.50,139.08 L546.00,138.21 L546.50,136.38 L547.00,135.29 L547.50,134.03 L548.00,133.11 L548.50,132.01 L549.00,130.59 L549.50,129.06 L550.00,127.30 L550.50,125.43 L551.00,124.70 L551.50,123.11 L552.00,121.67 L552.50,120.53 L553.00,118.45 L553.50,116.93 L554.00,114.69 L554.50,114.22 L555.00,112.55 L555.50,110.88 L556.00,109.88 L556.50,108.00 L557.00,106.82 L557.50,106.37 L558.00,104.64 L558.50,103.40 L559.00,102.06 L559.50,100.76 L560.00,99.34 L560.50,98.83 L561.00,96.76 L561.50,95.80 L562.00,94.23 L562.50,92.95 L563.00,90.98 L563.50,89.91 L564.00,89.88 L564.50,88.61 L565.00,86.68 L565.50,85.58 L566.00,84.57 L566.50,82.78 L567.00,82.54 L567.50,80.36 L568.00,79.30 L568.50,77.44 L569.00,77.82 L569.50,76.23 L570.00,75.72 L570.50,73.79 L571.00,73.29 L571.50,72.27 L572.00,71.43 L572.50,71.26 L573.00,70.55 L573.50,69.52 L574.00,68.24 L574.50,68.10 L575.00,67.73 L575.50,67.00 L576.00,66.63 L576.50,66.29 L577.00,65.58 L577.50,65.84 L578.00,66.25 L578.50,65.35 L579.00,65.80 L579.50,66.20 L580.00,65.63 L580.50,66.32 L581.00,66.04 L581.50,66.81 L582.00,66.89 L582.50,67.54 L583.00,68.20 L583.50,68.82 L584.00,69.41 L584.50,68.98 L585.00,71.47 L585.50,71.22 L586.00,71.47 L586.50,72.37 L587.00,73.54 L587.50,73.53 L588.00,74.54 L588.50,75.20 L589.00,76.48 L589.50,76.41 L590.00,77.81 L590.50,78.42 L591.00,78.79 L591.50,80.35 L592.00,80.26 L592.50,80.18 L593.00,81.89 L593.50,82.54 L594.00,83.23 L594.50,84.26 L595.00,86.68 L595.50,86.06 L596.00,87.17 L596.50,87.59 L597.00,89.77 L597.50,89.70 L598.00,90.10 L598.50,90.74 L599.00,93.16 L599.50,94.34 L600.00,93.33 L600.50,95.02 L601.00,97.14 L601.50,98.43 L602.00,97.24 L602.50,98.97 L603.00,101.01 L603.50,100.63 L604.00,101.59 L604.50,102.37 L605.00,102.48 L605.50,104.67 L606.00,105.78 L606.50,104.92 L607.00,107.29 L607.50,109.18 L608.00,109.08 L608.50,110.70 L609.00,109.93 L609.50,112.82 L610.00,111.27 L610.50,115.02 L611.00,113.20 L611.50,113.66 L612.00,114.20 L612.50,115.49 L613.00,116.12 L613.50,116.59 L614.00,117.71 L614.50,119.59 L615.00,120.53 L615.50,119.68 L616.00,122.26 L616.50,120.06 L617.00,120.60 L617.50,121.01 L618.00,123.79 L618.50,121.50 L619.00,122.18 L619.50,126.22 L620.00,127.29 L620.50,127.25 L621.00,123.80 L621.50,126.28 L622.00,127.82 L622.50,127.17 L623.00,125.10 L623.50,127.26 L624.00,125.63 L624.50,126.62 L625.00,131.92 L625.50,130.06 L626.00,127.15 L626.50,127.37 L627.00,130.62 L627.50,129.26 L628.00,131.36 L628.50,129.71 L629.00,130.67 L629.50,131.61 L630.00,129.83 L630.50,128.66 L631.00,130.06 L631.50,131.10 L631.90,132.08 L631.90,132.31 L631.90,132.30 L631.90,133.23" fill="none" stroke="#e7298a" stroke-width="1.7" stroke-linejoin="round"/>
</g>
<rect x="407.8" y="1.7" width="225.40" height="183.30" fill="none" stroke="#000" stroke-width="1.6"/>
<line x1="407.80" y1="158.10" x2="411.40" y2="158.10" stroke="#000" stroke-width="1.4"/>
<text transform="matrix(0.16154 0.00000 0.00000 0.15406 380.454 163.546)" font-family="Liberation Sans" font-size="100" fill="#000" stroke="#000" stroke-width="0.89">0.2</text>
<line x1="407.80" y1="108.90" x2="411.40" y2="108.90" stroke="#000" stroke-width="1.4"/>
<text transform="matrix(0.15879 0.00000 0.00000 0.15406 380.465 114.346)" font-family="Liberation Sans" font-size="100" fill="#000" stroke="#000" stroke-width="0.90">0.4</text>
<line x1="407.80" y1="59.70" x2="411.40" y2="59.70" stroke="#000" stroke-width="1.4"/>
<text transform="matrix(0.16061 0.00000 0.00000 0.15406 380.458 65.146)" font-family="Liberation Sans" font-size="100" fill="#000" stroke="#000" stroke-width="0.89">0.6</text>
<line x1="407.80" y1="10.50" x2="411.40" y2="10.50" stroke="#000" stroke-width="1.4"/>
<text transform="matrix(0.16061 0.00000 0.00000 0.15406 380.458 15.946)" font-family="Liberation Sans" font-size="100" fill="#000" stroke="#000" stroke-width="0.89">0.8</text>
<line x1="418.10" y1="185.00" x2="418.10" y2="181.40" stroke="#000" stroke-width="1.4"/>
<text transform="matrix(0.16226 0.00000 0.00000 0.14558 404.551 200.654)" font-family="Liberation Sans" font-size="100" fill="#000" stroke="#000" stroke-width="0.91">500</text>
<line x1="471.93" y1="185.00" x2="471.93" y2="181.40" stroke="#000" stroke-width="1.4"/>
<text transform="matrix(0.16329 0.00000 0.00000 0.14558 458.214 200.654)" font-family="Liberation Sans" font-size="100" fill="#000" stroke="#000" stroke-width="0.91">600</text>
<line x1="525.76" y1="185.00" x2="525.76" y2="181.40" stroke="#000" stroke-width="1.4"/>
<text transform="matrix(0.16329 0.00000 0.00000 0.14558 512.044 200.654)" font-family="Liberation Sans" font-size="100" fill="#000" stroke="#000" stroke-width="0.91">700</text>
<line x1="579.59" y1="185.00" x2="579.59" y2="181.40" stroke="#000" stroke-width="1.4"/>
<text transform="matrix(0.16252 0.00000 0.00000 0.14558 565.999 200.654)" font-family="Liberation Sans" font-size="100" fill="#000" stroke="#000" stroke-width="0.91">800</text>
<line x1="633.42" y1="185.00" x2="633.42" y2="181.40" stroke="#000" stroke-width="1.4"/>
<text transform="matrix(0.16303 0.00000 0.00000 0.14558 619.746 200.654)" font-family="Liberation Sans" font-size="100" fill="#000" stroke="#000" stroke-width="0.91">900</text>
<text transform="matrix(0.16572 0.00000 0.00000 0.15273 457.717 216.900)" font-family="Liberation Sans" font-size="100" fill="#000" stroke="#000" stroke-width="0.88">Wavelength (nm)</text>
<text transform="matrix(0.00000 -0.16841 0.16057 0.00000 375.100 180.158)" font-family="Liberation Sans" font-size="100" fill="#000" stroke="#000" stroke-width="0.85">Scattering intensity (%)</text>
<text transform="matrix(0.23111 0.00000 0.00000 0.22449 342.698 17.076)" font-family="Liberation Sans" font-size="100" fill="#000" stroke="#000" stroke-width="0.61">b</text>
<text transform="matrix(0.16842 0.00000 0.00000 0.17863 427.979 107.600)" font-family="Liberation Serif" font-style="italic" font-weight="bold" font-size="100" fill="#000" stroke="#000" stroke-width="1.44">T</text>
<text transform="matrix(0.17087 0.00000 0.00000 0.17410 461.274 129.000)" font-family="Liberation Serif" font-size="100" fill="#000" stroke="#000" stroke-width="2.03">(</text>
<text transform="matrix(0.19891 0.00000 0.00000 0.17037 468.355 128.930)" font-family="Liberation Serif" font-weight="bold" font-size="100" fill="#000" stroke="#000" stroke-width="0.43">20</text>
<text transform="matrix(0.16699 0.00000 0.00000 0.17410 490.157 129.000)" font-family="Liberation Serif" font-size="100" fill="#000" stroke="#000" stroke-width="2.05">)</text>
<text transform="matrix(0.17087 0.00000 0.00000 0.17080 571.274 19.071)" font-family="Liberation Serif" font-size="100" fill="#000" stroke="#000" stroke-width="2.05">(</text>
<text transform="matrix(0.20057 0.00000 0.00000 0.17630 577.895 19.324)" font-family="Liberation Serif" font-weight="bold" font-size="100" fill="#000" stroke="#000" stroke-width="0.43">10</text>
<text transform="matrix(0.16699 0.00000 0.00000 0.17080 600.157 19.071)" font-family="Liberation Serif" font-size="100" fill="#000" stroke="#000" stroke-width="2.07">)</text>
<line x1="477.0" y1="133.0" x2="477.0" y2="142.75" stroke="#7570b3" stroke-width="1.8"/>
<path d="M477.0,147.3 L473.70,140.80 L480.30,140.80 Z" fill="#7570b3"/>
<line x1="481.6" y1="140.4" x2="481.6" y2="150.05" stroke="#e7298a" stroke-width="1.8"/>
<path d="M481.6,154.6 L478.30,148.10 L484.90,148.10 Z" fill="#e7298a"/>
<line x1="463.4" y1="168.0" x2="463.4" y2="158.35" stroke="#1b9e77" stroke-width="1.8"/>
<path d="M463.4,153.8 L460.10,160.30 L466.70,160.30 Z" fill="#1b9e77"/>
<line x1="469.1" y1="172.6" x2="469.1" y2="163.75" stroke="#d95f02" stroke-width="1.8"/>
<path d="M469.1,159.2 L465.80,165.70 L472.40,165.70 Z" fill="#d95f02"/>
<rect x="408.0" y="225.5" width="226.00" height="181.50" fill="none" stroke="#1a1a1a" stroke-width="1.6"/>
<line x1="408.00" y1="403.45" x2="411.60" y2="403.45" stroke="#000" stroke-width="1.4"/>
<text transform="matrix(0.15696 0.00000 0.00000 0.14982 377.015 408.900)" font-family="Liberation Sans" font-size="100" fill="#000" stroke="#000" stroke-width="0.91">760</text>
<line x1="408.00" y1="353.10" x2="411.60" y2="353.10" stroke="#000" stroke-width="1.4"/>
<text transform="matrix(0.15696 0.00000 0.00000 0.14982 377.015 358.550)" font-family="Liberation Sans" font-size="100" fill="#000" stroke="#000" stroke-width="0.91">770</text>
<line x1="408.00" y1="302.75" x2="411.60" y2="302.75" stroke="#000" stroke-width="1.4"/>
<text transform="matrix(0.15696 0.00000 0.00000 0.14982 377.015 308.200)" font-family="Liberation Sans" font-size="100" fill="#000" stroke="#000" stroke-width="0.91">780</text>
<line x1="408.00" y1="252.40" x2="411.60" y2="252.40" stroke="#000" stroke-width="1.4"/>
<text transform="matrix(0.15696 0.00000 0.00000 0.14982 377.015 257.850)" font-family="Liberation Sans" font-size="100" fill="#000" stroke="#000" stroke-width="0.91">790</text>
<line x1="634.00" y1="362.40" x2="630.40" y2="362.40" stroke="#000" stroke-width="1.4"/>
<text transform="matrix(0.15955 0.00000 0.00000 0.14700 638.162 367.853)" font-family="Liberation Sans" font-size="100" fill="#000" stroke="#000" stroke-width="0.91">0.4</text>
<line x1="634.00" y1="307.70" x2="630.40" y2="307.70" stroke="#000" stroke-width="1.4"/>
<text transform="matrix(0.16107 0.00000 0.00000 0.14700 638.156 313.153)" font-family="Liberation Sans" font-size="100" fill="#000" stroke="#000" stroke-width="0.91">0.5</text>
<line x1="634.00" y1="253.00" x2="630.40" y2="253.00" stroke="#000" stroke-width="1.4"/>
<text transform="matrix(0.16138 0.00000 0.00000 0.14700 638.154 258.453)" font-family="Liberation Sans" font-size="100" fill="#000" stroke="#000" stroke-width="0.91">0.6</text>
<line x1="418.20" y1="407.00" x2="418.20" y2="403.40" stroke="#000" stroke-width="1.4"/>
<line x1="486.70" y1="407.00" x2="486.70" y2="403.40" stroke="#000" stroke-width="1.4"/>
<line x1="555.20" y1="407.00" x2="555.20" y2="403.40" stroke="#000" stroke-width="1.4"/>
<line x1="623.70" y1="407.00" x2="623.70" y2="403.40" stroke="#000" stroke-width="1.4"/>
<path d="M416.36,414.49 C416.95,413.75 417.94,413.38 418.69,413.47" fill="none" stroke="#000" stroke-width="1.05" stroke-linecap="round" stroke-linejoin="round"/>
<path d="M418.77,413.66 L417.53,419.63" fill="none" stroke="#000" stroke-width="1.70" stroke-linecap="round" stroke-linejoin="round"/>
<path d="M417.53,419.63 C417.28,420.82 417.61,421.38 418.19,421.19 C418.69,421.01 419.10,420.55 419.44,420.00" fill="none" stroke="#000" stroke-width="1.22" stroke-linecap="round" stroke-linejoin="round"/>
<ellipse cx="418.81" cy="410.72" rx="0.83" ry="0.92" fill="#000"/>
<path d="M482.29,415.17 C482.89,414.45 483.93,414.09 484.70,414.18" fill="none" stroke="#000" stroke-width="1.05" stroke-linecap="round" stroke-linejoin="round"/>
<path d="M484.79,414.36 L483.49,420.19" fill="none" stroke="#000" stroke-width="1.70" stroke-linecap="round" stroke-linejoin="round"/>
<path d="M483.49,420.19 C483.24,421.35 483.58,421.89 484.18,421.71 C484.70,421.53 485.13,421.08 485.48,420.55" fill="none" stroke="#000" stroke-width="1.22" stroke-linecap="round" stroke-linejoin="round"/>
<path d="M488.02,415.17 C488.63,414.45 489.66,414.09 490.44,414.18" fill="none" stroke="#000" stroke-width="1.05" stroke-linecap="round" stroke-linejoin="round"/>
<path d="M490.52,414.36 L489.23,420.19" fill="none" stroke="#000" stroke-width="1.70" stroke-linecap="round" stroke-linejoin="round"/>
<path d="M489.23,420.19 C488.97,421.35 489.32,421.89 489.92,421.71 C490.44,421.53 490.87,421.08 491.21,420.55" fill="none" stroke="#000" stroke-width="1.22" stroke-linecap="round" stroke-linejoin="round"/>
<ellipse cx="484.83" cy="411.50" rx="0.86" ry="0.90" fill="#000"/>
<ellipse cx="490.57" cy="411.50" rx="0.86" ry="0.90" fill="#000"/>
<path d="M548.77,415.17 C549.36,414.45 550.36,414.09 551.12,414.18" fill="none" stroke="#000" stroke-width="1.05" stroke-linecap="round" stroke-linejoin="round"/>
<path d="M551.20,414.36 L549.94,420.19" fill="none" stroke="#000" stroke-width="1.70" stroke-linecap="round" stroke-linejoin="round"/>
<path d="M549.94,420.19 C549.69,421.35 550.03,421.89 550.62,421.71 C551.12,421.53 551.54,421.08 551.87,420.55" fill="none" stroke="#000" stroke-width="1.22" stroke-linecap="round" stroke-linejoin="round"/>
<path d="M554.35,415.17 C554.94,414.45 555.94,414.09 556.70,414.18" fill="none" stroke="#000" stroke-width="1.05" stroke-linecap="round" stroke-linejoin="round"/>
<path d="M556.78,414.36 L555.52,420.19" fill="none" stroke="#000" stroke-width="1.70" stroke-linecap="round" stroke-linejoin="round"/>
<path d="M555.52,420.19 C555.27,421.35 555.61,421.89 556.19,421.71 C556.70,421.53 557.12,421.08 557.45,420.55" fill="none" stroke="#000" stroke-width="1.22" stroke-linecap="round" stroke-linejoin="round"/>
<path d="M559.93,415.17 C560.51,414.45 561.52,414.09 562.27,414.18" fill="none" stroke="#000" stroke-width="1.05" stroke-linecap="round" stroke-linejoin="round"/>
<path d="M562.36,414.36 L561.10,420.19" fill="none" stroke="#000" stroke-width="1.70" stroke-linecap="round" stroke-linejoin="round"/>
<path d="M561.10,420.19 C560.85,421.35 561.18,421.89 561.77,421.71 C562.27,421.53 562.69,421.08 563.03,420.55" fill="none" stroke="#000" stroke-width="1.22" stroke-linecap="round" stroke-linejoin="round"/>
<ellipse cx="551.24" cy="411.50" rx="0.84" ry="0.90" fill="#000"/>
<ellipse cx="556.82" cy="411.50" rx="0.84" ry="0.90" fill="#000"/>
<ellipse cx="562.40" cy="411.50" rx="0.84" ry="0.90" fill="#000"/>
<path d="M616.09,415.29 C616.69,414.59 617.72,414.24 618.50,414.32" fill="none" stroke="#000" stroke-width="1.05" stroke-linecap="round" stroke-linejoin="round"/>
<path d="M618.58,414.50 L617.29,420.23" fill="none" stroke="#000" stroke-width="1.70" stroke-linecap="round" stroke-linejoin="round"/>
<path d="M617.29,420.23 C617.03,421.37 617.38,421.90 617.98,421.72 C618.50,421.55 618.93,421.11 619.27,420.58" fill="none" stroke="#000" stroke-width="1.22" stroke-linecap="round" stroke-linejoin="round"/>
<path d="M621.21,415.47 C621.81,414.68 622.67,414.24 623.36,414.41" fill="none" stroke="#000" stroke-width="1.05" stroke-linecap="round" stroke-linejoin="round"/>
<path d="M623.53,414.68 C623.62,416.35 623.10,418.55 623.45,421.55" fill="none" stroke="#000" stroke-width="1.70" stroke-linecap="round" stroke-linejoin="round"/>
<path d="M623.45,421.55 C626.12,421.20 628.61,418.99 629.04,416.26" fill="none" stroke="#000" stroke-width="1.27" stroke-linecap="round" stroke-linejoin="round"/>
<path d="M629.04,416.26 C629.21,415.29 629.04,414.50 628.53,414.32" fill="none" stroke="#000" stroke-width="1.78" stroke-linecap="round" stroke-linejoin="round"/>
<ellipse cx="618.63" cy="411.68" rx="0.86" ry="0.88" fill="#000"/>
<path d="M418.20,397.25 L486.70,326.50 L555.20,257.20 L623.70,234.70" fill="none" stroke="#000" stroke-width="3.8"/>
<path d="M418.20,240.50 L486.70,315.90 L555.20,352.90 L623.70,380.20" fill="none" stroke="#808080" stroke-width="3.3"/>
<circle cx="418.2" cy="240.5" r="5.75" fill="#1b9e77" stroke="#333" stroke-width="0.7"/>
<circle cx="486.7" cy="315.9" r="5.75" fill="#d95f02" stroke="#333" stroke-width="0.7"/>
<circle cx="555.2" cy="352.9" r="5.75" fill="#7570b3" stroke="#333" stroke-width="0.7"/>
<circle cx="623.7" cy="380.2" r="5.75" fill="#e7298a" stroke="#333" stroke-width="0.7"/>
<circle cx="418.2" cy="397.25" r="5.75" fill="#1b9e77" stroke="#333" stroke-width="0.7"/>
<circle cx="486.7" cy="326.5" r="5.75" fill="#d95f02" stroke="#333" stroke-width="0.7"/>
<circle cx="555.2" cy="257.2" r="5.75" fill="#7570b3" stroke="#333" stroke-width="0.7"/>
<circle cx="623.7" cy="234.7" r="5.75" fill="#e7298a" stroke="#333" stroke-width="0.7"/>
<line x1="451.0" y1="259.1" x2="485.0" y2="259.1" stroke="#808080" stroke-width="2.2" stroke-linecap="round"/>
<path d="M490.8,259.1 L482.0,255.1 L484.6,259.1 L482.0,263.1 Z" fill="#808080" stroke="#808080" stroke-width="0.6" stroke-linejoin="round"/>
<line x1="428.5" y1="352.5" x2="450.0" y2="352.5" stroke="#000" stroke-width="2.1" stroke-linecap="round"/>
<path d="M423.4,352.5 L432.0,348.6 L429.6,352.5 L432.0,356.4 Z" fill="#000" stroke="#000" stroke-width="0.6" stroke-linejoin="round"/>
<text transform="matrix(0.20465 0.00000 0.00000 0.22100 360.230 237.579)" font-family="Liberation Sans" font-size="100" fill="#000" stroke="#000" stroke-width="0.66">c</text>
<text transform="matrix(0.00000 -0.19884 0.18298 0.00000 372.200 341.903)" font-family="Liberation Serif" font-style="italic" font-size="100" fill="#000" stroke="#000" stroke-width="0.42">λ</text>
<text transform="matrix(0.00000 -0.13829 0.12148 0.00000 374.379 334.210)" font-family="Liberation Serif" font-size="100" fill="#000" stroke="#000" stroke-width="0.62">10</text>
<text transform="matrix(0.00000 -0.16507 0.15855 0.00000 371.400 314.932)" font-family="Liberation Sans" font-size="100" fill="#000" stroke="#000" stroke-width="0.87">(nm)</text>
<text transform="matrix(0.00000 0.14857 -0.19237 0.00000 672.300 292.780)" font-family="Liberation Serif" font-size="100" fill="#000" stroke="#000" stroke-width="0.47">I</text>
<text transform="matrix(0.00000 0.14286 -0.13926 0.00000 668.539 296.750)" font-family="Liberation Serif" font-size="100" fill="#000" stroke="#000" stroke-width="0.57">10</text>
<text transform="matrix(0.00000 0.14729 -0.14263 0.00000 672.960 316.579)" font-family="Liberation Sans" font-size="100" fill="#000" stroke="#000" stroke-width="0.97">(%)</text>
</svg></body></html>
